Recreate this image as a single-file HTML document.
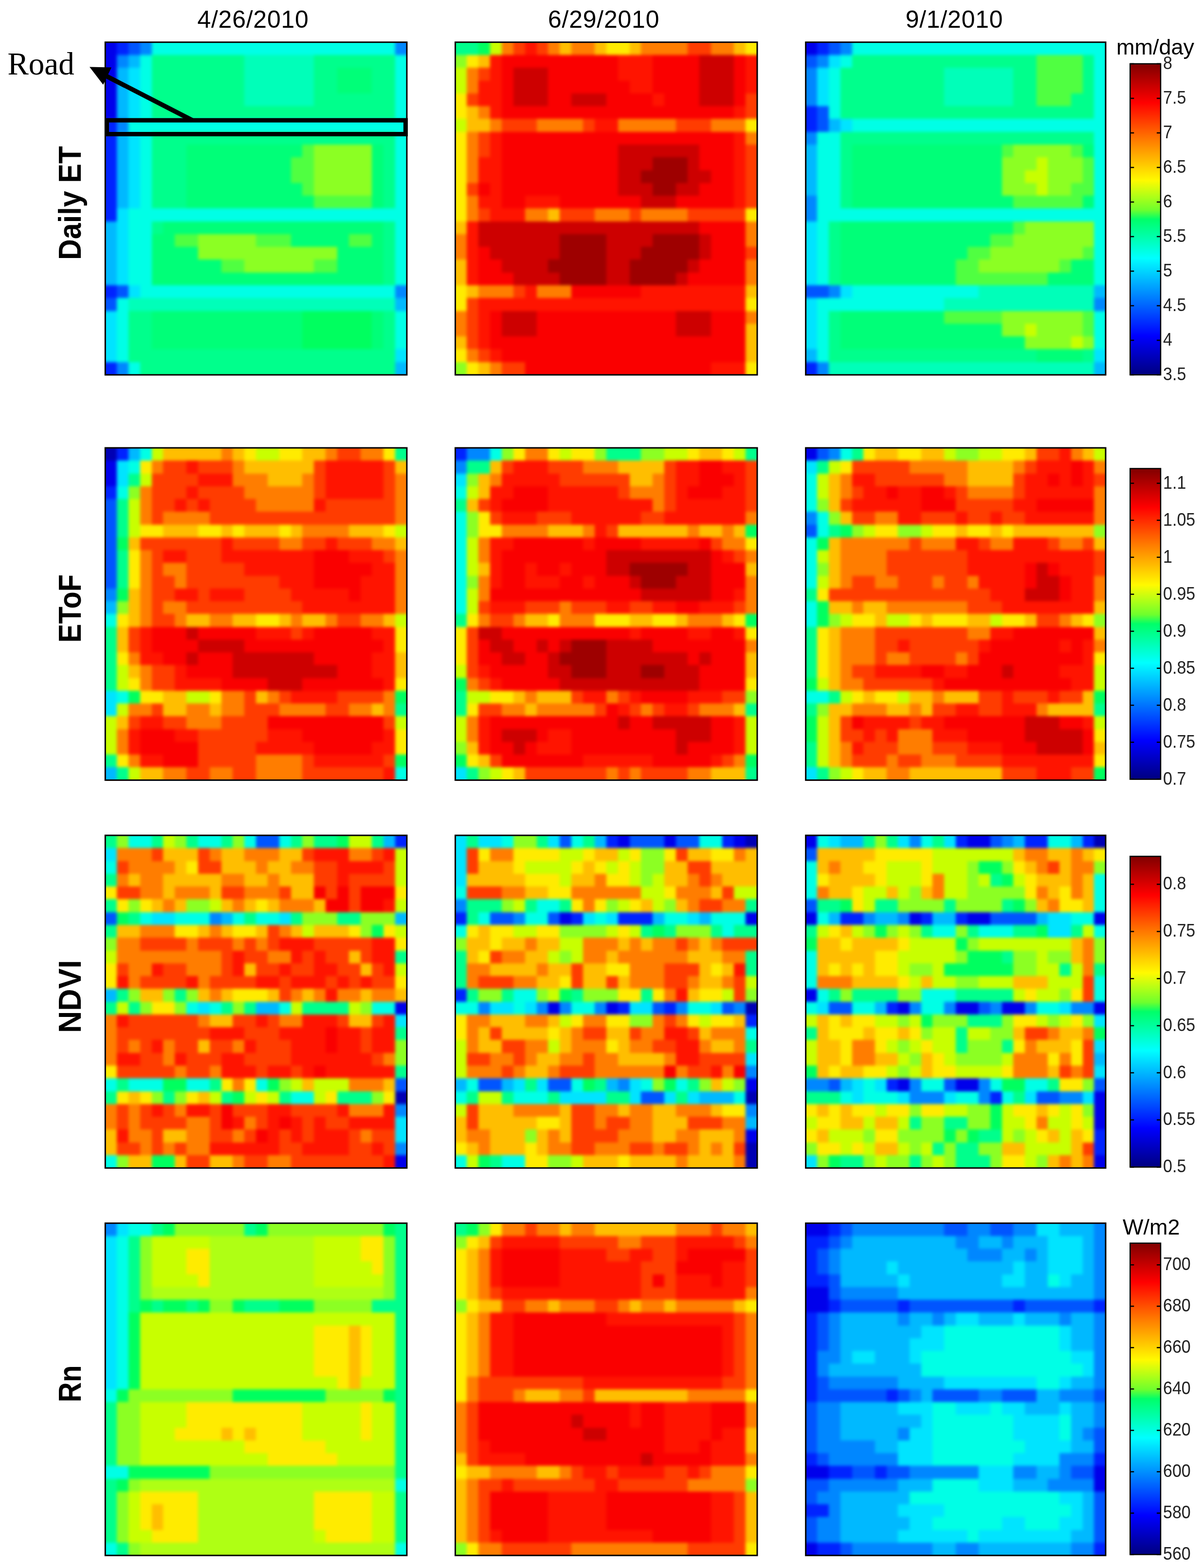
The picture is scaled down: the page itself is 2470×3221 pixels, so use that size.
<!DOCTYPE html>
<html><head><meta charset="utf-8"><style>
html,body{margin:0;padding:0;background:#fff;}
body{width:2470px;height:3221px;overflow:hidden;}
svg{display:block;}
.tk{font-family:"Liberation Sans",Arial,sans-serif;font-size:37px;fill:#222;}
.dt{font-family:"Liberation Sans",Arial,sans-serif;font-size:50px;fill:#000;letter-spacing:0.75px;}
.rl{font-family:"Liberation Sans",Arial,sans-serif;font-size:65.5px;font-weight:bold;fill:#000;}
.un{font-family:"Liberation Sans",Arial,sans-serif;font-size:45px;fill:#000;}
.rd{font-family:"Liberation Serif","Times New Roman",serif;font-size:65px;fill:#000;}
</style></head><body>
<svg width="2470" height="3221" viewBox="0 0 2470 3221">
<defs><linearGradient id="jetg" x1="0" y1="1" x2="0" y2="0">
<stop offset="0.0000" stop-color="#000080"/>
<stop offset="0.1250" stop-color="#0000ff"/>
<stop offset="0.2500" stop-color="#0080ff"/>
<stop offset="0.3750" stop-color="#00ffff"/>
<stop offset="0.4400" stop-color="#00ffaf"/>
<stop offset="0.5000" stop-color="#00ff69"/>
<stop offset="0.5300" stop-color="#6eff2d"/>
<stop offset="0.5700" stop-color="#aaff19"/>
<stop offset="0.6250" stop-color="#fffa00"/>
<stop offset="0.7500" stop-color="#ff8000"/>
<stop offset="0.8750" stop-color="#ff0000"/>
<stop offset="1.0000" stop-color="#800000"/>
</linearGradient><filter id="bl" x="-5%" y="-5%" width="110%" height="110%" color-interpolation-filters="sRGB"><feGaussianBlur stdDeviation="3.2"/></filter></defs>
<rect width="2470" height="3221" fill="#fff"/>
<g shape-rendering="crispEdges">
<clipPath id="cp1"><rect x="216.30" y="86.70" width="619.70" height="683.30"/></clipPath>
<g clip-path="url(#cp1)"><g filter="url(#bl)"><g transform="translate(216.30 86.70) scale(23.8346 26.2808)">
<rect x="-1" y="-1" width="28" height="28" fill="#00ff8c"/>
<path fill="#0000eb" d="M-1 -1h2v1h-2zM-1 0h2v1h-2zM-1 1h2v1h-2zM-1 2h2v1h-2zM-1 3h2v1h-2zM-1 4h2v1h-2zM-1 5h2v1h-2z"/>
<path fill="#0023ff" d="M1 -1h1v1h-1zM1 0h1v1h-1zM-1 6h2v1h-2zM-1 7h2v1h-2zM-1 8h2v1h-2zM-1 9h2v1h-2zM-1 10h2v1h-2zM-1 11h2v1h-2zM-1 12h2v1h-2zM-1 13h2v1h-2zM-1 19h2v1h-2zM-1 25h2v1h-2zM-1 26h2v1h-2z"/>
<path fill="#0055ff" d="M2 -1h1v1h-1zM2 0h1v1h-1zM1 19h1v1h-1zM-1 20h2v1h-2z"/>
<path fill="#0087ff" d="M3 -1h1v1h-1zM25 -1h2v1h-2zM3 0h1v1h-1zM25 0h2v1h-2zM1 1h1v1h-1zM1 6h1v1h-1zM25 19h2v1h-2zM1 25h1v1h-1zM1 26h1v1h-1z"/>
<path fill="#00ffe6" d="M4 -1h21v1h-21zM4 0h21v1h-21zM3 1h1v1h-1zM25 1h2v1h-2zM3 2h1v1h-1zM25 2h2v1h-2zM3 3h1v1h-1zM25 3h2v1h-2zM3 4h1v1h-1zM25 4h2v1h-2zM3 5h1v1h-1zM25 5h2v1h-2zM2 6h25v1h-25zM3 7h1v1h-1zM25 7h2v1h-2zM3 8h1v1h-1zM25 8h2v1h-2zM3 9h1v1h-1zM25 9h2v1h-2zM3 10h1v1h-1zM25 10h2v1h-2zM3 11h1v1h-1zM25 11h2v1h-2zM3 12h1v1h-1zM25 12h2v1h-2zM2 13h25v1h-25zM2 14h2v1h-2zM25 14h2v1h-2zM2 15h2v1h-2zM25 15h2v1h-2zM2 16h2v1h-2zM25 16h2v1h-2zM2 17h2v1h-2zM25 17h2v1h-2zM2 18h2v1h-2zM25 18h2v1h-2zM3 19h22v1h-22zM1 20h1v1h-1zM1 21h1v1h-1zM25 21h2v1h-2zM1 22h1v1h-1zM25 22h2v1h-2zM1 23h1v1h-1zM25 23h2v1h-2zM1 24h1v1h-1zM2 25h1v1h-1zM2 26h1v1h-1z"/>
<path fill="#00b9ff" d="M2 1h1v1h-1zM1 2h1v1h-1zM1 3h1v1h-1zM1 4h1v1h-1zM1 5h1v1h-1zM1 7h1v1h-1zM1 8h1v1h-1zM1 9h1v1h-1zM1 10h1v1h-1zM1 11h1v1h-1zM1 12h1v1h-1zM-1 14h2v1h-2zM-1 15h2v1h-2zM-1 16h2v1h-2zM-1 17h2v1h-2zM-1 18h2v1h-2zM25 20h2v1h-2zM25 25h2v1h-2zM25 26h2v1h-2z"/>
<path fill="#00ffb9" d="M12 1h6v1h-6zM12 2h6v1h-6zM12 3h6v1h-6zM12 4h6v1h-6zM2 20h23v1h-23z"/>
<path fill="#00e4ff" d="M2 2h1v1h-1zM2 3h1v1h-1zM2 4h1v1h-1zM2 5h1v1h-1zM2 7h1v1h-1zM2 8h1v1h-1zM2 9h1v1h-1zM2 10h1v1h-1zM2 11h1v1h-1zM2 12h1v1h-1zM1 13h1v1h-1zM1 14h1v1h-1zM1 15h1v1h-1zM1 16h1v1h-1zM1 17h1v1h-1zM1 18h1v1h-1zM2 19h1v1h-1zM-1 21h2v1h-2zM-1 22h2v1h-2zM-1 23h2v1h-2zM-1 24h2v1h-2zM25 24h2v1h-2z"/>
<path fill="#00ff78" d="M20 2h3v1h-3zM20 3h3v1h-3zM7 8h10v1h-10zM23 8h1v1h-1zM7 9h9v1h-9zM23 9h1v1h-1zM7 10h9v1h-9zM23 10h1v1h-1zM7 11h10v1h-10zM23 11h1v1h-1zM7 12h11v1h-11zM23 12h1v1h-1zM5 14h19v1h-19zM4 15h2v1h-2zM16 15h5v1h-5zM23 15h1v1h-1zM4 16h4v1h-4zM20 16h4v1h-4zM4 17h6v1h-6zM20 17h4v1h-4zM4 18h20v1h-20zM4 21h13v1h-13zM23 21h1v1h-1zM4 22h13v1h-13zM23 22h1v1h-1zM4 23h13v1h-13zM23 23h1v1h-1z"/>
<path fill="#50ff41" d="M17 8h1v1h-1zM16 9h2v1h-2zM16 10h2v1h-2zM17 11h1v1h-1zM18 12h5v1h-5zM6 15h2v1h-2zM13 15h3v1h-3zM21 15h2v1h-2zM10 17h2v1h-2zM18 17h2v1h-2z"/>
<path fill="#8cff23" d="M18 8h5v1h-5zM18 9h5v1h-5zM18 10h5v1h-5zM18 11h5v1h-5zM8 15h5v1h-5zM8 16h12v1h-12zM12 17h6v1h-6z"/>
<path fill="#00ff5f" d="M17 21h6v1h-6zM17 22h6v1h-6zM17 23h6v1h-6z"/>
</g></g></g>
<clipPath id="cp2"><rect x="935.60" y="86.70" width="620.40" height="683.30"/></clipPath>
<g clip-path="url(#cp2)"><g filter="url(#bl)"><g transform="translate(935.60 86.70) scale(23.8615 26.2808)">
<rect x="-1" y="-1" width="28" height="28" fill="#fa0000"/>
<path fill="#00ff8c" d="M-1 -1h3v1h-3zM-1 0h3v1h-3z"/>
<path fill="#00ff5f" d="M2 -1h1v1h-1zM2 0h1v1h-1z"/>
<path fill="#c8ff00" d="M3 -1h1v1h-1zM3 0h1v1h-1zM-1 2h2v1h-2zM-1 3h2v1h-2zM-1 6h2v1h-2z"/>
<path fill="#ff7d00" d="M4 -1h1v1h-1zM8 -1h1v1h-1zM10 -1h2v1h-2zM16 -1h4v1h-4zM22 -1h2v1h-2zM4 0h1v1h-1zM8 0h1v1h-1zM10 0h2v1h-2zM16 0h4v1h-4zM22 0h2v1h-2zM1 2h1v1h-1zM1 3h1v1h-1zM2 5h1v1h-1zM3 6h1v1h-1zM7 6h4v1h-4zM14 6h5v1h-5zM22 6h3v1h-3zM1 7h1v1h-1zM25 7h2v1h-2zM1 8h1v1h-1zM1 9h1v1h-1zM1 10h1v1h-1zM1 12h1v1h-1zM1 13h1v1h-1zM6 13h2v1h-2zM12 13h3v1h-3zM16 13h4v1h-4zM25 14h2v1h-2zM-1 15h2v1h-2zM25 15h2v1h-2zM-1 16h2v1h-2zM25 17h2v1h-2zM25 18h2v1h-2zM2 19h3v1h-3zM7 19h3v1h-3zM-1 21h2v1h-2zM25 21h2v1h-2zM-1 22h2v1h-2zM1 24h1v1h-1zM3 25h1v1h-1zM3 26h1v1h-1z"/>
<path fill="#ff3c00" d="M5 -1h1v1h-1zM7 -1h1v1h-1zM20 -1h2v1h-2zM5 0h1v1h-1zM7 0h1v1h-1zM20 0h2v1h-2zM2 2h1v1h-1zM1 4h1v1h-1zM25 4h2v1h-2zM25 5h2v1h-2zM4 6h3v1h-3zM11 6h1v1h-1zM19 6h3v1h-3zM2 7h1v1h-1zM2 8h1v1h-1zM25 8h2v1h-2zM25 9h2v1h-2zM25 10h2v1h-2zM1 11h1v1h-1zM25 11h2v1h-2zM25 12h2v1h-2zM2 13h1v1h-1zM9 13h3v1h-3zM15 13h1v1h-1zM20 13h5v1h-5zM25 16h2v1h-2zM5 19h1v1h-1zM1 20h1v1h-1zM1 21h1v1h-1zM1 22h1v1h-1zM1 23h1v1h-1zM2 24h1v1h-1zM4 25h2v1h-2zM4 26h2v1h-2z"/>
<path fill="#ff1400" d="M6 -1h1v1h-1zM6 0h1v1h-1zM3 1h1v1h-1zM14 1h3v1h-3zM25 1h2v1h-2zM3 2h1v1h-1zM14 2h3v1h-3zM25 2h2v1h-2zM2 3h2v1h-2zM15 3h2v1h-2zM25 3h2v1h-2zM2 4h2v1h-2zM17 4h1v1h-1zM3 5h1v1h-1zM24 5h1v1h-1zM12 6h2v1h-2zM3 7h1v1h-1zM24 7h1v1h-1zM3 8h1v1h-1zM24 8h1v1h-1zM2 9h2v1h-2zM24 9h1v1h-1zM2 10h2v1h-2zM24 10h1v1h-1zM3 11h1v1h-1zM24 11h1v1h-1zM2 12h2v1h-2zM6 12h3v1h-3zM24 12h1v1h-1zM3 13h3v1h-3zM1 14h1v1h-1zM1 15h1v1h-1zM1 16h1v1h-1zM1 17h1v1h-1zM1 18h1v1h-1zM6 19h1v1h-1zM16 19h9v1h-9zM2 20h23v1h-23zM2 21h1v1h-1zM2 22h1v1h-1zM2 23h1v1h-1zM3 24h1v1h-1zM22 25h3v1h-3zM22 26h3v1h-3z"/>
<path fill="#ffbe00" d="M9 -1h1v1h-1zM12 -1h1v1h-1zM15 -1h1v1h-1zM24 -1h1v1h-1zM9 0h1v1h-1zM12 0h1v1h-1zM15 0h1v1h-1zM24 0h1v1h-1zM2 1h1v1h-1zM1 5h1v1h-1zM1 6h2v1h-2zM8 13h1v1h-1zM-1 14h2v1h-2zM-1 17h2v1h-2zM-1 18h2v1h-2zM1 19h1v1h-1zM25 19h2v1h-2zM25 22h2v1h-2zM-1 23h2v1h-2zM25 23h2v1h-2zM25 24h2v1h-2zM2 25h1v1h-1zM2 26h1v1h-1z"/>
<path fill="#ffeb00" d="M13 -1h2v1h-2zM25 -1h2v1h-2zM13 0h2v1h-2zM25 0h2v1h-2zM1 1h1v1h-1zM-1 4h2v1h-2zM-1 5h2v1h-2zM25 6h2v1h-2zM-1 7h2v1h-2zM-1 8h2v1h-2zM-1 9h2v1h-2zM-1 10h2v1h-2zM-1 11h2v1h-2zM-1 12h2v1h-2zM-1 13h2v1h-2zM25 13h2v1h-2zM-1 19h2v1h-2zM-1 20h2v1h-2zM25 20h2v1h-2zM-1 24h2v1h-2zM1 25h1v1h-1zM25 25h2v1h-2zM1 26h1v1h-1zM25 26h2v1h-2z"/>
<path fill="#8cff23" d="M-1 1h2v1h-2zM-1 25h2v1h-2zM-1 26h2v1h-2z"/>
<path fill="#cd0000" d="M21 1h3v1h-3zM5 2h3v1h-3zM21 2h3v1h-3zM5 3h3v1h-3zM21 3h3v1h-3zM5 4h3v1h-3zM10 4h3v1h-3zM21 4h3v1h-3zM14 8h7v1h-7zM14 9h3v1h-3zM20 9h1v1h-1zM14 10h2v1h-2zM20 10h2v1h-2zM14 11h3v1h-3zM19 11h2v1h-2zM16 12h3v1h-3zM2 14h19v1h-19zM2 15h7v1h-7zM13 15h4v1h-4zM21 15h1v1h-1zM3 16h6v1h-6zM13 16h3v1h-3zM21 16h1v1h-1zM4 17h4v1h-4zM13 17h2v1h-2zM20 17h1v1h-1zM5 18h4v1h-4zM13 18h2v1h-2zM19 18h1v1h-1zM4 21h3v1h-3zM19 21h3v1h-3zM4 22h3v1h-3zM19 22h3v1h-3z"/>
<path fill="#9e0000" d="M17 9h3v1h-3zM16 10h4v1h-4zM17 11h2v1h-2zM9 15h4v1h-4zM17 15h4v1h-4zM9 16h4v1h-4zM16 16h5v1h-5zM8 17h5v1h-5zM15 17h5v1h-5zM9 18h4v1h-4zM15 18h4v1h-4z"/>
</g></g></g>
<clipPath id="cp3"><rect x="1655.70" y="86.70" width="616.30" height="683.30"/></clipPath>
<g clip-path="url(#cp3)"><g filter="url(#bl)"><g transform="translate(1655.70 86.70) scale(23.7038 26.2808)">
<rect x="-1" y="-1" width="28" height="28" fill="#00ffe6"/>
<path fill="#0000eb" d="M-1 -1h2v1h-2zM-1 0h2v1h-2z"/>
<path fill="#0023ff" d="M1 -1h1v1h-1zM1 0h1v1h-1zM-1 5h2v1h-2zM-1 6h2v1h-2zM-1 25h2v1h-2zM-1 26h2v1h-2z"/>
<path fill="#0055ff" d="M2 -1h1v1h-1zM2 0h1v1h-1zM-1 1h2v1h-2zM1 5h1v1h-1zM1 6h1v1h-1zM-1 19h3v1h-3z"/>
<path fill="#0087ff" d="M3 -1h1v1h-1zM3 0h1v1h-1zM1 1h1v1h-1zM-1 2h2v1h-2zM-1 3h2v1h-2zM-1 4h2v1h-2zM-1 7h2v1h-2zM-1 12h2v1h-2zM-1 13h2v1h-2zM2 19h1v1h-1zM25 20h2v1h-2zM1 25h1v1h-1zM1 26h1v1h-1z"/>
<path fill="#00e4ff" d="M2 1h1v1h-1zM1 2h1v1h-1zM1 3h1v1h-1zM1 4h1v1h-1zM3 6h1v1h-1zM-1 14h2v1h-2zM-1 15h2v1h-2zM-1 16h2v1h-2zM-1 17h2v1h-2zM-1 18h2v1h-2zM3 19h1v1h-1zM-1 20h2v1h-2zM-1 21h2v1h-2zM-1 22h2v1h-2zM-1 23h2v1h-2zM25 24h2v1h-2z"/>
<path fill="#00ff8c" d="M4 1h16v1h-16zM24 1h1v1h-1zM3 2h9v1h-9zM18 2h2v1h-2zM24 2h1v1h-1zM3 3h9v1h-9zM18 3h2v1h-2zM24 3h1v1h-1zM3 4h9v1h-9zM18 4h2v1h-2zM23 4h2v1h-2zM3 5h22v1h-22zM3 7h22v1h-22zM3 8h1v1h-1zM3 9h1v1h-1zM3 10h1v1h-1zM3 11h1v1h-1zM3 12h1v1h-1zM2 14h1v1h-1zM2 15h1v1h-1zM2 16h1v1h-1zM2 17h1v1h-1zM2 18h1v1h-1zM2 21h1v1h-1zM2 22h1v1h-1zM2 23h1v1h-1zM2 24h18v1h-18zM24 24h1v1h-1z"/>
<path fill="#50ff41" d="M20 1h4v1h-4zM20 2h4v1h-4zM20 3h4v1h-4zM20 4h3v1h-3zM17 8h1v1h-1zM23 8h1v1h-1zM24 9h1v1h-1zM24 10h1v1h-1zM23 11h2v1h-2zM18 12h6v1h-6zM18 14h1v1h-1zM16 15h2v1h-2zM14 16h2v1h-2zM24 16h1v1h-1zM13 17h2v1h-2zM22 17h1v1h-1zM13 18h8v1h-8zM12 21h5v1h-5zM24 21h1v1h-1zM24 22h1v1h-1z"/>
<path fill="#00ffb9" d="M12 2h6v1h-6zM12 3h6v1h-6zM12 4h6v1h-6zM15 19h10v1h-10zM12 20h13v1h-13zM2 25h23v1h-23zM2 26h23v1h-23z"/>
<path fill="#00b9ff" d="M2 6h1v1h-1zM-1 8h2v1h-2zM-1 9h2v1h-2zM-1 10h2v1h-2zM-1 11h2v1h-2zM25 19h2v1h-2zM-1 24h2v1h-2zM25 25h2v1h-2zM25 26h2v1h-2z"/>
<path fill="#00ff78" d="M4 8h13v1h-13zM24 8h1v1h-1zM4 9h13v1h-13zM4 10h13v1h-13zM4 11h13v1h-13zM4 12h14v1h-14zM24 12h1v1h-1zM3 14h15v1h-15zM3 15h13v1h-13zM3 16h11v1h-11zM3 17h10v1h-10zM23 17h2v1h-2zM3 18h10v1h-10zM21 18h4v1h-4zM3 21h9v1h-9zM3 22h14v1h-14zM3 23h16v1h-16zM20 24h4v1h-4z"/>
<path fill="#8cff23" d="M18 8h5v1h-5zM17 9h3v1h-3zM21 9h3v1h-3zM17 10h2v1h-2zM21 10h3v1h-3zM17 11h3v1h-3zM21 11h2v1h-2zM19 14h6v1h-6zM18 15h7v1h-7zM16 16h8v1h-8zM15 17h7v1h-7zM17 21h7v1h-7zM17 22h2v1h-2zM20 22h4v1h-4zM19 23h4v1h-4zM24 23h1v1h-1z"/>
<path fill="#c8ff00" d="M20 9h1v1h-1zM19 10h2v1h-2zM20 11h1v1h-1zM19 22h1v1h-1zM23 23h1v1h-1z"/>
</g></g></g>
<clipPath id="cp4"><rect x="216.30" y="920.00" width="619.70" height="682.60"/></clipPath>
<g clip-path="url(#cp4)"><g filter="url(#bl)"><g transform="translate(216.30 920.00) scale(23.8346 26.2538)">
<rect x="-1" y="-1" width="28" height="28" fill="#ff3c00"/>
<path fill="#0000b4" d="M-1 -1h2v1h-2zM-1 0h2v1h-2z"/>
<path fill="#0023ff" d="M1 -1h1v1h-1zM1 0h1v1h-1zM-1 3h2v1h-2z"/>
<path fill="#00b9ff" d="M2 -1h1v1h-1zM2 0h1v1h-1zM-1 12h2v1h-2zM-1 25h2v1h-2zM-1 26h2v1h-2z"/>
<path fill="#00ffe6" d="M3 -1h1v1h-1zM3 0h1v1h-1zM2 1h1v1h-1zM1 3h1v1h-1zM-1 13h2v1h-2zM1 19h1v1h-1zM25 25h2v1h-2zM25 26h2v1h-2z"/>
<path fill="#c8ff00" d="M4 -1h1v1h-1zM13 -1h2v1h-2zM4 0h1v1h-1zM13 0h2v1h-2zM3 2h1v1h-1zM2 4h1v1h-1zM2 5h1v1h-1zM2 6h1v1h-1zM25 6h2v1h-2zM25 13h2v1h-2zM1 17h1v1h-1zM1 18h1v1h-1zM7 19h2v1h-2zM1 20h1v1h-1zM-1 21h2v1h-2zM25 21h2v1h-2zM-1 22h2v1h-2zM-1 23h2v1h-2zM2 25h1v1h-1zM2 26h1v1h-1z"/>
<path fill="#ffbe00" d="M5 -1h5v1h-5zM11 -1h1v1h-1zM17 -1h2v1h-2zM5 0h5v1h-5zM11 0h1v1h-1zM17 0h2v1h-2zM12 1h6v1h-6zM25 1h2v1h-2zM14 2h3v1h-3zM5 6h3v1h-3zM10 6h1v1h-1zM12 6h3v1h-3zM16 6h1v1h-1zM21 6h3v1h-3zM2 7h1v1h-1zM25 7h2v1h-2zM2 11h1v1h-1zM2 12h1v1h-1zM2 13h1v1h-1zM7 13h2v1h-2zM11 13h2v1h-2zM15 13h1v1h-1zM17 13h2v1h-2zM24 13h1v1h-1zM1 14h1v1h-1zM1 15h1v1h-1zM25 16h2v1h-2zM2 17h1v1h-1zM25 17h2v1h-2zM5 19h2v1h-2zM13 19h1v1h-1zM5 20h2v1h-2zM9 20h1v1h-1zM23 20h1v1h-1zM1 21h1v1h-1zM3 25h2v1h-2zM3 26h2v1h-2z"/>
<path fill="#ff7d00" d="M10 -1h1v1h-1zM19 -1h1v1h-1zM22 -1h2v1h-2zM10 0h1v1h-1zM19 0h1v1h-1zM22 0h2v1h-2zM4 1h1v1h-1zM11 1h1v1h-1zM11 2h3v1h-3zM17 2h1v1h-1zM25 2h2v1h-2zM3 3h1v1h-1zM12 3h6v1h-6zM25 3h2v1h-2zM3 4h1v1h-1zM13 4h5v1h-5zM25 4h2v1h-2zM3 5h1v1h-1zM5 5h4v1h-4zM25 5h2v1h-2zM17 6h4v1h-4zM15 7h2v1h-2zM23 7h2v1h-2zM3 8h1v1h-1zM25 8h2v1h-2zM3 9h1v1h-1zM5 9h2v1h-2zM25 9h2v1h-2zM3 10h1v1h-1zM6 10h1v1h-1zM25 10h2v1h-2zM3 11h1v1h-1zM25 11h2v1h-2zM3 12h1v1h-1zM5 12h2v1h-2zM25 12h2v1h-2zM3 13h1v1h-1zM6 13h1v1h-1zM9 13h2v1h-2zM16 13h1v1h-1zM19 13h1v1h-1zM22 13h2v1h-2zM2 16h1v1h-1zM3 17h1v1h-1zM3 18h1v1h-1zM10 19h2v1h-2zM14 19h1v1h-1zM24 19h1v1h-1zM2 20h2v1h-2zM7 20h2v1h-2zM10 20h2v1h-2zM15 20h4v1h-4zM21 20h2v1h-2zM24 20h1v1h-1zM7 21h3v1h-3zM1 22h1v1h-1zM1 23h1v1h-1zM2 24h1v1h-1zM13 24h4v1h-4zM5 25h2v1h-2zM9 25h2v1h-2zM13 25h4v1h-4zM5 26h2v1h-2zM9 26h2v1h-2zM13 26h4v1h-4z"/>
<path fill="#ffeb00" d="M12 -1h1v1h-1zM15 -1h2v1h-2zM24 -1h1v1h-1zM12 0h1v1h-1zM15 0h2v1h-2zM24 0h1v1h-1zM3 1h1v1h-1zM3 6h2v1h-2zM8 6h2v1h-2zM11 6h1v1h-1zM15 6h1v1h-1zM24 6h1v1h-1zM2 8h1v1h-1zM2 9h1v1h-1zM2 10h1v1h-1zM1 13h1v1h-1zM13 13h2v1h-2zM25 14h2v1h-2zM25 15h2v1h-2zM1 16h1v1h-1zM2 18h1v1h-1zM25 18h2v1h-2zM3 19h2v1h-2zM9 19h1v1h-1zM25 22h2v1h-2zM25 23h2v1h-2zM1 24h1v1h-1z"/>
<path fill="#00ff8c" d="M25 -1h2v1h-2zM25 0h2v1h-2zM2 2h1v1h-1zM1 4h1v1h-1zM1 5h1v1h-1zM1 6h1v1h-1zM1 8h1v1h-1zM1 9h1v1h-1zM1 10h1v1h-1zM-1 14h2v1h-2zM-1 15h2v1h-2zM-1 16h2v1h-2zM-1 17h2v1h-2zM-1 18h2v1h-2zM25 20h2v1h-2zM-1 24h2v1h-2zM1 25h1v1h-1zM1 26h1v1h-1z"/>
<path fill="#0000eb" d="M-1 1h2v1h-2zM-1 2h2v1h-2z"/>
<path fill="#00e4ff" d="M1 1h1v1h-1zM1 2h1v1h-1zM-1 19h2v1h-2zM-1 20h2v1h-2z"/>
<path fill="#ff1400" d="M7 1h1v1h-1zM19 1h5v1h-5zM8 2h3v1h-3zM19 2h5v1h-5zM7 3h1v1h-1zM19 3h5v1h-5zM6 4h1v1h-1zM8 4h1v1h-1zM18 4h1v1h-1zM10 7h1v1h-1zM19 7h1v1h-1zM5 8h2v1h-2zM10 8h8v1h-8zM21 8h3v1h-3zM12 9h6v1h-6zM23 9h2v1h-2zM15 10h3v1h-3zM22 10h3v1h-3zM6 11h2v1h-2zM9 11h3v1h-3zM16 11h5v1h-5zM22 11h3v1h-3zM17 12h8v1h-8zM3 14h1v1h-1zM13 14h3v1h-3zM17 14h1v1h-1zM23 14h2v1h-2zM3 15h1v1h-1zM24 15h1v1h-1zM3 16h2v1h-2zM23 16h2v1h-2zM6 17h1v1h-1zM23 17h2v1h-2zM6 18h4v1h-4zM24 18h1v1h-1zM16 19h4v1h-4zM3 21h2v1h-2zM2 22h1v1h-1zM6 22h2v1h-2zM14 22h3v1h-3zM24 22h1v1h-1zM2 23h1v1h-1zM13 23h5v1h-5zM23 23h2v1h-2zM3 24h2v1h-2zM18 24h6v1h-6zM24 25h1v1h-1zM24 26h1v1h-1z"/>
<path fill="#8cff23" d="M2 3h1v1h-1zM1 12h1v1h-1z"/>
<path fill="#0055ff" d="M-1 4h2v1h-2zM-1 5h2v1h-2zM-1 6h2v1h-2zM-1 7h2v1h-2zM-1 8h2v1h-2zM-1 9h2v1h-2zM-1 10h2v1h-2z"/>
<path fill="#00ff5f" d="M1 7h1v1h-1zM1 11h1v1h-1zM2 19h1v1h-1zM25 19h2v1h-2zM25 24h2v1h-2z"/>
<path fill="#fa0000" d="M18 8h3v1h-3zM18 9h5v1h-5zM18 10h4v1h-4zM21 11h1v1h-1zM4 14h3v1h-3zM8 14h5v1h-5zM18 14h5v1h-5zM4 15h4v1h-4zM12 15h12v1h-12zM5 16h2v1h-2zM8 16h3v1h-3zM18 16h5v1h-5zM7 17h4v1h-4zM20 17h3v1h-3zM10 18h4v1h-4zM17 18h7v1h-7zM14 21h10v1h-10zM3 22h3v1h-3zM17 22h7v1h-7zM3 23h5v1h-5zM18 23h5v1h-5zM5 24h3v1h-3z"/>
<path fill="#0087ff" d="M-1 11h2v1h-2z"/>
<path fill="#cd0000" d="M7 14h1v1h-1zM8 15h4v1h-4zM7 16h1v1h-1zM11 16h7v1h-7zM11 17h9v1h-9zM14 18h3v1h-3z"/>
</g></g></g>
<clipPath id="cp5"><rect x="935.60" y="920.00" width="620.40" height="682.60"/></clipPath>
<g clip-path="url(#cp5)"><g filter="url(#bl)"><g transform="translate(935.60 920.00) scale(23.8615 26.2538)">
<rect x="-1" y="-1" width="28" height="28" fill="#fa0000"/>
<path fill="#0023ff" d="M-1 -1h2v1h-2zM-1 0h2v1h-2z"/>
<path fill="#0087ff" d="M1 -1h2v1h-2zM1 0h2v1h-2zM-1 1h2v1h-2z"/>
<path fill="#00ffe6" d="M3 -1h1v1h-1zM3 0h1v1h-1zM-1 3h2v1h-2zM-1 5h2v1h-2zM-1 6h2v1h-2zM-1 7h2v1h-2zM-1 8h2v1h-2zM-1 9h2v1h-2zM-1 10h2v1h-2zM-1 11h2v1h-2zM-1 12h2v1h-2z"/>
<path fill="#8cff23" d="M4 -1h1v1h-1zM12 -1h1v1h-1zM16 -1h2v1h-2zM4 0h1v1h-1zM12 0h1v1h-1zM16 0h2v1h-2zM1 2h1v1h-1zM1 5h1v1h-1zM1 6h1v1h-1zM1 10h1v1h-1zM25 19h2v1h-2zM-1 23h2v1h-2zM2 25h1v1h-1zM2 26h1v1h-1z"/>
<path fill="#ffeb00" d="M5 -1h1v1h-1zM8 -1h1v1h-1zM10 -1h2v1h-2zM20 -1h1v1h-1zM23 -1h1v1h-1zM5 0h1v1h-1zM8 0h1v1h-1zM10 0h2v1h-2zM20 0h1v1h-1zM23 0h1v1h-1zM2 5h1v1h-1zM2 6h2v1h-2zM25 7h2v1h-2zM1 13h1v1h-1zM8 13h1v1h-1zM12 13h3v1h-3zM17 13h2v1h-2zM24 13h1v1h-1zM-1 14h2v1h-2zM25 14h2v1h-2zM-1 15h2v1h-2zM-1 16h2v1h-2zM25 18h2v1h-2zM3 19h2v1h-2zM1 20h1v1h-1zM1 24h1v1h-1zM4 25h1v1h-1zM4 26h1v1h-1z"/>
<path fill="#ff7d00" d="M6 -1h2v1h-2zM6 0h2v1h-2zM11 1h3v1h-3zM3 2h1v1h-1zM17 2h1v1h-1zM15 3h3v1h-3zM17 4h1v1h-1zM25 5h2v1h-2zM4 6h4v1h-4zM11 6h1v1h-1zM20 6h1v1h-1zM23 6h1v1h-1zM2 7h1v1h-1zM23 7h2v1h-2zM2 8h1v1h-1zM25 8h2v1h-2zM2 10h1v1h-1zM25 10h2v1h-2zM2 11h1v1h-1zM25 11h2v1h-2zM9 12h1v1h-1zM25 12h2v1h-2zM2 13h1v1h-1zM5 13h1v1h-1zM9 13h3v1h-3zM20 13h3v1h-3zM25 15h2v1h-2zM1 18h1v1h-1zM6 19h1v1h-1zM13 19h1v1h-1zM4 20h2v1h-2zM7 20h5v1h-5zM16 20h1v1h-1zM21 20h3v1h-3zM1 21h1v1h-1zM1 22h1v1h-1zM24 24h1v1h-1zM13 25h1v1h-1zM15 25h1v1h-1zM20 25h2v1h-2zM13 26h1v1h-1zM15 26h1v1h-1zM20 26h2v1h-2z"/>
<path fill="#c8ff00" d="M9 -1h1v1h-1zM18 -1h2v1h-2zM24 -1h1v1h-1zM9 0h1v1h-1zM18 0h2v1h-2zM24 0h1v1h-1zM1 3h1v1h-1zM1 7h1v1h-1zM1 8h1v1h-1zM1 9h1v1h-1zM1 11h1v1h-1zM1 12h1v1h-1zM-1 17h2v1h-2zM1 19h2v1h-2zM-1 21h2v1h-2zM25 21h2v1h-2zM-1 22h2v1h-2zM25 22h2v1h-2zM25 23h2v1h-2zM3 25h1v1h-1zM3 26h1v1h-1z"/>
<path fill="#00ff8c" d="M13 -1h3v1h-3zM25 -1h2v1h-2zM13 0h3v1h-3zM25 0h2v1h-2zM1 1h2v1h-2zM-1 4h2v1h-2zM-1 13h2v1h-2zM-1 19h2v1h-2zM-1 20h2v1h-2zM25 20h2v1h-2zM1 25h1v1h-1zM25 25h2v1h-2zM1 26h1v1h-1zM25 26h2v1h-2z"/>
<path fill="#ffbe00" d="M21 -1h2v1h-2zM21 0h2v1h-2zM3 1h1v1h-1zM14 1h4v1h-4zM2 2h1v1h-1zM15 2h2v1h-2zM2 3h1v1h-1zM1 4h1v1h-1zM8 6h3v1h-3zM14 6h6v1h-6zM21 6h2v1h-2zM24 6h1v1h-1zM2 9h1v1h-1zM25 9h2v1h-2zM6 13h2v1h-2zM15 13h2v1h-2zM19 13h1v1h-1zM23 13h1v1h-1zM25 16h2v1h-2zM25 17h2v1h-2zM5 19h1v1h-1zM7 19h3v1h-3zM6 20h1v1h-1zM24 20h1v1h-1zM1 23h1v1h-1zM2 24h1v1h-1zM5 25h1v1h-1zM22 25h3v1h-3zM5 26h1v1h-1zM22 26h3v1h-3z"/>
<path fill="#ff3c00" d="M4 1h1v1h-1zM8 1h3v1h-3zM18 1h1v1h-1zM25 1h2v1h-2zM9 2h6v1h-6zM18 2h1v1h-1zM25 2h2v1h-2zM14 3h1v1h-1zM18 3h1v1h-1zM25 3h2v1h-2zM2 4h1v1h-1zM18 4h1v1h-1zM25 4h2v1h-2zM3 5h1v1h-1zM7 5h3v1h-3zM16 5h2v1h-2zM13 6h1v1h-1zM22 7h1v1h-1zM24 8h1v1h-1zM2 12h1v1h-1zM6 12h3v1h-3zM10 12h3v1h-3zM15 12h2v1h-2zM24 12h1v1h-1zM3 13h2v1h-2zM1 14h1v1h-1zM1 15h1v1h-1zM1 16h1v1h-1zM1 17h1v1h-1zM2 18h1v1h-1zM10 19h1v1h-1zM14 19h1v1h-1zM23 19h2v1h-2zM2 20h2v1h-2zM12 20h1v1h-1zM15 20h1v1h-1zM17 20h1v1h-1zM20 20h1v1h-1zM3 24h1v1h-1zM23 24h1v1h-1zM6 25h7v1h-7zM14 25h1v1h-1zM16 25h4v1h-4zM6 26h7v1h-7zM14 26h1v1h-1zM16 26h4v1h-4z"/>
<path fill="#ff1400" d="M5 1h3v1h-3zM19 1h2v1h-2zM23 1h2v1h-2zM4 2h5v1h-5zM19 2h2v1h-2zM24 2h1v1h-1zM3 3h2v1h-2zM8 3h6v1h-6zM19 3h1v1h-1zM23 3h2v1h-2zM3 4h1v1h-1zM8 4h9v1h-9zM19 4h6v1h-6zM4 5h3v1h-3zM10 5h6v1h-6zM18 5h7v1h-7zM12 6h1v1h-1zM3 7h2v1h-2zM11 7h1v1h-1zM16 7h5v1h-5zM3 8h1v1h-1zM23 8h1v1h-1zM3 9h1v1h-1zM6 9h1v1h-1zM9 9h1v1h-1zM3 10h1v1h-1zM6 10h3v1h-3zM11 10h1v1h-1zM24 11h1v1h-1zM3 12h3v1h-3zM13 12h2v1h-2zM17 12h2v1h-2zM21 12h3v1h-3zM15 14h1v1h-1zM20 14h2v1h-2zM24 14h1v1h-1zM2 17h1v1h-1zM3 18h1v1h-1zM11 19h2v1h-2zM15 19h1v1h-1zM20 19h3v1h-3zM14 20h1v1h-1zM18 20h2v1h-2zM2 21h1v1h-1zM24 21h1v1h-1zM2 22h1v1h-1zM8 22h2v1h-2zM24 22h1v1h-1zM2 23h1v1h-1zM7 23h3v1h-3zM24 23h1v1h-1zM11 24h6v1h-6zM22 24h1v1h-1z"/>
<path fill="#00e4ff" d="M-1 2h2v1h-2zM-1 25h2v1h-2zM-1 26h2v1h-2z"/>
<path fill="#00ff5f" d="M25 6h2v1h-2zM25 13h2v1h-2zM-1 18h2v1h-2zM-1 24h2v1h-2zM25 24h2v1h-2z"/>
<path fill="#cd0000" d="M13 8h9v1h-9zM13 9h2v1h-2zM20 9h2v1h-2zM15 10h1v1h-1zM19 10h3v1h-3zM16 11h6v1h-6zM2 14h2v1h-2zM3 15h2v1h-2zM7 15h1v1h-1zM9 15h1v1h-1zM13 15h4v1h-4zM4 16h2v1h-2zM8 16h1v1h-1zM13 16h7v1h-7zM21 16h1v1h-1zM8 17h2v1h-2zM13 17h3v1h-3zM18 17h3v1h-3zM9 18h12v1h-12zM14 21h1v1h-1zM17 21h5v1h-5zM4 22h3v1h-3zM19 22h3v1h-3zM5 23h1v1h-1zM19 23h1v1h-1z"/>
<path fill="#9e0000" d="M15 9h5v1h-5zM16 10h3v1h-3zM10 15h3v1h-3zM9 16h4v1h-4zM10 17h3v1h-3zM16 17h2v1h-2z"/>
</g></g></g>
<clipPath id="cp6"><rect x="1655.70" y="920.00" width="616.30" height="682.60"/></clipPath>
<g clip-path="url(#cp6)"><g filter="url(#bl)"><g transform="translate(1655.70 920.00) scale(23.7038 26.2538)">
<rect x="-1" y="-1" width="28" height="28" fill="#ff3c00"/>
<path fill="#0000eb" d="M-1 -1h2v1h-2zM-1 0h2v1h-2z"/>
<path fill="#0055ff" d="M1 -1h1v1h-1zM1 0h1v1h-1zM-1 6h2v1h-2z"/>
<path fill="#0087ff" d="M2 -1h1v1h-1zM2 0h1v1h-1zM-1 5h2v1h-2z"/>
<path fill="#00ffe6" d="M3 -1h1v1h-1zM3 0h1v1h-1zM-1 2h2v1h-2zM-1 3h2v1h-2zM-1 4h2v1h-2zM1 5h1v1h-1zM1 6h1v1h-1zM-1 7h2v1h-2zM-1 8h2v1h-2zM-1 9h2v1h-2zM-1 10h2v1h-2zM-1 12h2v1h-2zM-1 13h2v1h-2zM-1 19h3v1h-3z"/>
<path fill="#00ff8c" d="M4 -1h1v1h-1zM4 0h1v1h-1zM1 1h1v1h-1zM2 6h1v1h-1zM-1 11h2v1h-2zM-1 14h2v1h-2zM-1 15h2v1h-2zM-1 16h2v1h-2zM-1 17h2v1h-2zM2 19h1v1h-1zM-1 20h2v1h-2zM25 20h2v1h-2zM-1 23h2v1h-2zM-1 24h2v1h-2zM1 25h1v1h-1zM1 26h1v1h-1z"/>
<path fill="#ffeb00" d="M5 -1h1v1h-1zM8 -1h2v1h-2zM17 -1h2v1h-2zM5 0h1v1h-1zM8 0h2v1h-2zM17 0h2v1h-2zM3 1h1v1h-1zM6 6h2v1h-2zM11 6h2v1h-2zM14 6h2v1h-2zM17 6h1v1h-1zM1 11h1v1h-1zM4 13h2v1h-2zM9 13h1v1h-1zM11 13h3v1h-3zM17 13h2v1h-2zM24 13h1v1h-1zM1 14h1v1h-1zM1 15h1v1h-1zM1 16h1v1h-1zM25 16h2v1h-2zM1 17h1v1h-1zM4 19h1v1h-1zM6 19h2v1h-2zM25 22h2v1h-2zM25 24h2v1h-2zM4 25h1v1h-1zM4 26h1v1h-1z"/>
<path fill="#ffbe00" d="M6 -1h2v1h-2zM10 -1h2v1h-2zM19 -1h1v1h-1zM24 -1h1v1h-1zM6 0h2v1h-2zM10 0h2v1h-2zM19 0h1v1h-1zM24 0h1v1h-1zM14 1h4v1h-4zM2 2h1v1h-1zM14 2h4v1h-4zM2 3h1v1h-1zM2 4h1v1h-1zM3 5h1v1h-1zM13 6h1v1h-1zM16 6h1v1h-1zM18 6h7v1h-7zM2 7h1v1h-1zM25 7h2v1h-2zM2 8h1v1h-1zM2 9h1v1h-1zM2 10h1v1h-1zM2 12h2v1h-2zM5 12h2v1h-2zM25 12h2v1h-2zM6 13h1v1h-1zM10 13h1v1h-1zM14 13h2v1h-2zM19 13h1v1h-1zM23 13h1v1h-1zM2 14h1v1h-1zM25 14h2v1h-2zM2 15h1v1h-1zM2 16h1v1h-1zM2 17h1v1h-1zM2 18h1v1h-1zM5 19h1v1h-1zM9 19h2v1h-2zM12 19h3v1h-3zM24 19h1v1h-1zM2 20h2v1h-2zM7 20h2v1h-2zM10 20h1v1h-1zM21 20h4v1h-4zM2 21h1v1h-1zM2 22h1v1h-1zM2 23h1v1h-1zM25 23h2v1h-2zM2 24h1v1h-1zM5 25h2v1h-2zM9 25h8v1h-8zM5 26h2v1h-2zM9 26h8v1h-8z"/>
<path fill="#c8ff00" d="M12 -1h1v1h-1zM15 -1h2v1h-2zM25 -1h2v1h-2zM12 0h1v1h-1zM15 0h2v1h-2zM25 0h2v1h-2zM2 1h1v1h-1zM1 2h1v1h-1zM1 3h1v1h-1zM5 6h1v1h-1zM10 6h1v1h-1zM1 8h1v1h-1zM1 10h1v1h-1zM3 13h1v1h-1zM7 13h2v1h-2zM16 13h1v1h-1zM25 17h2v1h-2zM1 18h1v1h-1zM25 18h2v1h-2zM3 19h1v1h-1zM8 19h1v1h-1zM1 21h1v1h-1zM25 21h2v1h-2zM1 22h1v1h-1zM1 23h1v1h-1zM1 24h1v1h-1zM3 25h1v1h-1zM3 26h1v1h-1z"/>
<path fill="#8cff23" d="M13 -1h2v1h-2zM13 0h2v1h-2zM1 4h1v1h-1zM2 5h1v1h-1zM4 6h1v1h-1zM8 6h2v1h-2zM25 6h2v1h-2zM1 9h1v1h-1zM2 13h1v1h-1zM25 13h2v1h-2zM1 20h1v1h-1zM2 25h1v1h-1zM2 26h1v1h-1z"/>
<path fill="#ff1400" d="M22 -1h1v1h-1zM22 0h1v1h-1zM20 1h3v1h-3zM24 1h1v1h-1zM4 2h2v1h-2zM19 2h2v1h-2zM22 2h1v1h-1zM24 2h1v1h-1zM5 3h2v1h-2zM8 3h2v1h-2zM12 3h1v1h-1zM19 3h6v1h-6zM4 4h6v1h-6zM18 4h2v1h-2zM8 5h2v1h-2zM13 5h1v1h-1zM16 5h1v1h-1zM19 5h6v1h-6zM13 7h2v1h-2zM18 7h3v1h-3zM14 8h11v1h-11zM14 9h5v1h-5zM22 9h3v1h-3zM15 10h4v1h-4zM23 10h2v1h-2zM16 11h3v1h-3zM23 11h2v1h-2zM17 12h8v1h-8zM16 14h2v1h-2zM8 15h1v1h-1zM15 15h1v1h-1zM22 15h1v1h-1zM24 15h1v1h-1zM24 16h1v1h-1zM6 17h4v1h-4zM12 17h2v1h-2zM22 17h3v1h-3zM11 18h1v1h-1zM23 18h2v1h-2zM17 19h1v1h-1zM21 19h1v1h-1zM13 20h2v1h-2zM17 20h3v1h-3zM5 21h4v1h-4zM10 21h2v1h-2zM24 21h1v1h-1zM5 22h1v1h-1zM7 22h1v1h-1zM11 22h3v1h-3zM4 23h1v1h-1zM14 23h3v1h-3zM17 24h8v1h-8zM20 25h3v1h-3zM20 26h3v1h-3z"/>
<path fill="#ff7d00" d="M23 -1h1v1h-1zM23 0h1v1h-1zM9 1h5v1h-5zM18 1h1v1h-1zM25 1h2v1h-2zM3 2h1v1h-1zM12 2h2v1h-2zM3 3h1v1h-1zM14 3h4v1h-4zM25 3h2v1h-2zM25 4h2v1h-2zM6 5h2v1h-2zM25 5h2v1h-2zM3 7h6v1h-6zM10 7h3v1h-3zM16 7h2v1h-2zM22 7h2v1h-2zM3 8h4v1h-4zM3 9h4v1h-4zM3 10h1v1h-1zM6 10h2v1h-2zM11 10h1v1h-1zM14 10h1v1h-1zM25 10h2v1h-2zM25 11h2v1h-2zM4 12h1v1h-1zM7 12h7v1h-7zM22 13h1v1h-1zM3 14h3v1h-3zM14 14h2v1h-2zM3 15h3v1h-3zM25 15h2v1h-2zM3 16h3v1h-3zM7 16h2v1h-2zM13 16h1v1h-1zM3 17h1v1h-1zM3 18h2v1h-2zM11 19h1v1h-1zM4 20h3v1h-3zM9 20h1v1h-1zM20 20h1v1h-1zM8 22h3v1h-3zM3 23h1v1h-1zM8 23h3v1h-3zM3 24h1v1h-1zM7 24h1v1h-1zM10 24h3v1h-3zM7 25h2v1h-2zM7 26h2v1h-2z"/>
<path fill="#00e4ff" d="M-1 1h2v1h-2zM-1 25h2v1h-2zM-1 26h2v1h-2z"/>
<path fill="#fa0000" d="M23 1h1v1h-1zM21 2h1v1h-1zM23 2h1v1h-1zM7 3h1v1h-1zM10 3h2v1h-2zM10 4h3v1h-3zM20 4h5v1h-5zM19 9h1v1h-1zM21 9h1v1h-1zM19 10h1v1h-1zM22 10h1v1h-1zM22 11h1v1h-1zM18 14h7v1h-7zM16 15h6v1h-6zM23 15h1v1h-1zM15 16h9v1h-9zM10 17h2v1h-2zM14 17h3v1h-3zM18 17h4v1h-4zM12 18h11v1h-11zM4 21h1v1h-1zM12 21h7v1h-7zM22 21h2v1h-2zM14 22h5v1h-5zM24 22h1v1h-1zM17 23h3v1h-3zM24 23h1v1h-1z"/>
<path fill="#00ff5f" d="M3 6h1v1h-1zM1 7h1v1h-1zM1 12h1v1h-1zM1 13h1v1h-1zM-1 18h2v1h-2zM25 19h2v1h-2zM-1 21h2v1h-2zM-1 22h2v1h-2zM25 25h2v1h-2zM25 26h2v1h-2z"/>
<path fill="#cd0000" d="M20 9h1v1h-1zM20 10h2v1h-2zM19 11h3v1h-3zM17 17h1v1h-1zM19 21h3v1h-3zM19 22h5v1h-5zM20 23h4v1h-4z"/>
</g></g></g>
<clipPath id="cp7"><rect x="216.30" y="1716.00" width="619.70" height="683.30"/></clipPath>
<g clip-path="url(#cp7)"><g filter="url(#bl)"><g transform="translate(216.30 1716.00) scale(23.8346 26.2808)">
<rect x="-1" y="-1" width="28" height="28" fill="#ff3c00"/>
<path fill="#00ff8c" d="M-1 -1h2v1h-2zM4 -1h1v1h-1zM7 -1h1v1h-1zM10 -1h1v1h-1zM16 -1h1v1h-1zM18 -1h2v1h-2zM23 -1h1v1h-1zM-1 0h2v1h-2zM4 0h1v1h-1zM7 0h1v1h-1zM10 0h1v1h-1zM16 0h1v1h-1zM18 0h2v1h-2zM23 0h1v1h-1zM-1 3h2v1h-2zM-1 5h2v1h-2zM2 6h1v1h-1zM12 6h1v1h-1zM16 6h1v1h-1zM20 6h2v1h-2zM-1 7h2v1h-2zM25 9h2v1h-2zM1 12h1v1h-1zM6 12h1v1h-1zM-1 13h2v1h-2zM2 13h1v1h-1zM10 13h1v1h-1zM12 13h1v1h-1zM17 13h4v1h-4zM25 15h2v1h-2zM25 18h2v1h-2zM1 19h1v1h-1zM9 19h1v1h-1zM-1 20h2v1h-2zM5 20h1v1h-1zM10 20h1v1h-1zM15 20h1v1h-1zM20 20h3v1h-3z"/>
<path fill="#8cff23" d="M1 -1h1v1h-1zM6 -1h1v1h-1zM11 -1h1v1h-1zM17 -1h1v1h-1zM1 0h1v1h-1zM6 0h1v1h-1zM11 0h1v1h-1zM17 0h1v1h-1zM2 5h1v1h-1zM7 5h2v1h-2zM17 6h3v1h-3zM22 6h3v1h-3zM22 7h1v1h-1zM-1 8h2v1h-2zM2 12h1v1h-1zM5 12h1v1h-1zM7 12h1v1h-1zM3 13h1v1h-1zM6 13h1v1h-1zM11 13h1v1h-1zM22 13h1v1h-1zM25 16h2v1h-2zM25 17h2v1h-2zM15 19h1v1h-1zM4 20h1v1h-1zM6 20h1v1h-1zM23 20h1v1h-1zM1 25h1v1h-1zM1 26h1v1h-1z"/>
<path fill="#00ffe6" d="M2 -1h2v1h-2zM8 -1h2v1h-2zM12 -1h1v1h-1zM15 -1h1v1h-1zM2 0h2v1h-2zM8 0h2v1h-2zM12 0h1v1h-1zM15 0h1v1h-1zM-1 2h2v1h-2zM3 6h1v1h-1zM6 6h3v1h-3zM11 6h1v1h-1zM13 6h2v1h-2zM7 13h1v1h-1zM9 13h1v1h-1zM15 13h1v1h-1zM23 13h2v1h-2zM-1 19h2v1h-2zM2 19h3v1h-3zM7 19h2v1h-2zM13 19h1v1h-1zM16 20h2v1h-2zM-1 25h2v1h-2zM-1 26h2v1h-2z"/>
<path fill="#c8ff00" d="M5 -1h1v1h-1zM21 -1h2v1h-2zM5 0h1v1h-1zM21 0h2v1h-2zM25 1h2v1h-2zM25 2h2v1h-2zM25 3h2v1h-2zM9 5h1v1h-1zM25 5h2v1h-2zM17 7h1v1h-1zM25 7h2v1h-2zM-1 9h2v1h-2zM25 10h2v1h-2zM1 13h1v1h-1zM16 13h1v1h-1zM21 13h1v1h-1zM16 19h1v1h-1zM18 19h3v1h-3zM9 20h1v1h-1zM12 20h1v1h-1zM14 20h1v1h-1zM18 20h1v1h-1z"/>
<path fill="#0055ff" d="M13 -1h2v1h-2zM13 0h2v1h-2zM-1 6h2v1h-2zM25 19h2v1h-2z"/>
<path fill="#00ff5f" d="M20 -1h1v1h-1zM20 0h1v1h-1zM1 6h1v1h-1zM23 7h1v1h-1zM5 19h2v1h-2zM14 19h1v1h-1zM11 20h1v1h-1zM4 25h2v1h-2zM4 26h2v1h-2z"/>
<path fill="#00b9ff" d="M24 -1h1v1h-1zM24 0h1v1h-1zM10 6h1v1h-1zM25 6h2v1h-2zM-1 12h2v1h-2zM13 13h2v1h-2z"/>
<path fill="#0023ff" d="M25 -1h2v1h-2zM25 0h2v1h-2z"/>
<path fill="#00e4ff" d="M-1 1h2v1h-2zM4 6h2v1h-2zM15 6h1v1h-1zM8 13h1v1h-1zM25 14h2v1h-2zM25 22h2v1h-2zM25 23h2v1h-2z"/>
<path fill="#ff7d00" d="M1 1h3v1h-3zM9 1h1v1h-1zM12 1h3v1h-3zM21 1h2v1h-2zM2 2h4v1h-4zM13 2h1v1h-1zM16 2h2v1h-2zM1 3h1v1h-1zM3 3h2v1h-2zM10 3h2v1h-2zM14 3h1v1h-1zM3 4h2v1h-2zM6 4h3v1h-3zM12 4h3v1h-3zM5 5h1v1h-1zM11 5h1v1h-1zM15 5h3v1h-3zM3 7h3v1h-3zM9 7h1v1h-1zM15 7h1v1h-1zM1 8h2v1h-2zM7 8h1v1h-1zM11 8h1v1h-1zM13 8h1v1h-1zM1 9h9v1h-9zM14 9h2v1h-2zM2 10h2v1h-2zM7 10h3v1h-3zM2 11h1v1h-1zM8 11h1v1h-1zM9 12h1v1h-1zM16 12h1v1h-1zM18 12h1v1h-1zM20 12h2v1h-2zM23 12h2v1h-2zM-1 14h2v1h-2zM8 14h1v1h-1zM15 14h2v1h-2zM-1 15h2v1h-2zM-1 16h2v1h-2zM2 16h1v1h-1zM5 16h1v1h-1zM11 16h1v1h-1zM-1 17h2v1h-2zM5 17h1v1h-1zM24 17h1v1h-1zM6 18h1v1h-1zM9 18h1v1h-1zM11 19h1v1h-1zM21 19h3v1h-3zM-1 21h2v1h-2zM2 21h1v1h-1zM6 21h1v1h-1zM21 21h3v1h-3zM-1 22h2v1h-2zM2 22h1v1h-1zM7 22h2v1h-2zM12 22h1v1h-1zM2 23h2v1h-2zM7 23h2v1h-2zM11 23h1v1h-1zM22 23h1v1h-1zM3 24h1v1h-1zM5 24h1v1h-1zM7 24h2v1h-2zM11 25h1v1h-1zM14 25h2v1h-2zM11 26h1v1h-1zM14 26h2v1h-2z"/>
<path fill="#ffbe00" d="M5 1h3v1h-3zM10 1h2v1h-2zM15 1h2v1h-2zM6 2h1v1h-1zM10 2h3v1h-3zM14 2h2v1h-2zM2 3h1v1h-1zM5 3h5v1h-5zM12 3h2v1h-2zM15 3h3v1h-3zM5 4h1v1h-1zM9 4h1v1h-1zM16 4h2v1h-2zM4 5h1v1h-1zM6 5h1v1h-1zM10 5h1v1h-1zM12 5h1v1h-1zM14 5h1v1h-1zM18 5h1v1h-1zM1 7h2v1h-2zM8 7h1v1h-1zM10 7h1v1h-1zM13 7h1v1h-1zM16 7h1v1h-1zM18 7h3v1h-3zM21 9h1v1h-1zM12 10h1v1h-1zM22 10h1v1h-1zM3 12h2v1h-2zM8 12h1v1h-1zM10 12h1v1h-1zM14 12h1v1h-1zM17 12h1v1h-1zM22 12h1v1h-1zM25 12h2v1h-2zM9 14h2v1h-2zM21 14h2v1h-2zM8 16h1v1h-1zM17 19h1v1h-1zM24 19h1v1h-1zM2 20h1v1h-1zM8 20h1v1h-1zM-1 23h2v1h-2zM5 23h2v1h-2zM-1 24h2v1h-2zM2 25h2v1h-2zM6 25h1v1h-1zM9 25h2v1h-2zM2 26h2v1h-2zM6 26h1v1h-1zM9 26h2v1h-2z"/>
<path fill="#ff1400" d="M18 1h3v1h-3zM24 1h1v1h-1zM20 2h4v1h-4zM20 3h1v1h-1zM24 5h1v1h-1zM15 8h3v1h-3zM23 8h2v1h-2zM11 9h1v1h-1zM16 9h1v1h-1zM18 9h1v1h-1zM23 9h2v1h-2zM4 10h1v1h-1zM11 10h1v1h-1zM15 10h1v1h-1zM18 10h2v1h-2zM24 10h1v1h-1zM1 11h1v1h-1zM7 11h1v1h-1zM13 11h2v1h-2zM16 11h3v1h-3zM20 11h1v1h-1zM22 11h1v1h-1zM19 12h1v1h-1zM1 14h1v1h-1zM13 14h1v1h-1zM17 14h3v1h-3zM24 14h1v1h-1zM9 15h3v1h-3zM15 15h4v1h-4zM20 15h2v1h-2zM23 15h2v1h-2zM4 16h1v1h-1zM12 16h1v1h-1zM16 16h3v1h-3zM20 16h2v1h-2zM23 16h2v1h-2zM1 17h2v1h-2zM6 17h1v1h-1zM10 17h2v1h-2zM16 17h7v1h-7zM10 18h3v1h-3zM14 18h2v1h-2zM17 18h1v1h-1zM19 18h6v1h-6zM4 21h1v1h-1zM7 21h2v1h-2zM14 21h2v1h-2zM20 21h1v1h-1zM24 21h1v1h-1zM11 22h1v1h-1zM14 22h1v1h-1zM16 22h1v1h-1zM18 22h1v1h-1zM21 22h4v1h-4zM1 23h1v1h-1zM14 23h1v1h-1zM16 23h1v1h-1zM18 23h3v1h-3zM9 24h6v1h-6zM17 24h4v1h-4zM23 24h1v1h-1zM24 25h1v1h-1zM24 26h1v1h-1z"/>
<path fill="#ffeb00" d="M7 2h1v1h-1zM-1 4h2v1h-2zM25 4h2v1h-2zM1 5h1v1h-1zM3 5h1v1h-1zM13 5h1v1h-1zM6 7h2v1h-2zM11 7h2v1h-2zM21 7h1v1h-1zM24 7h1v1h-1zM25 8h2v1h-2zM-1 10h2v1h-2zM-1 11h2v1h-2zM25 11h2v1h-2zM11 12h3v1h-3zM4 13h2v1h-2zM-1 18h2v1h-2zM10 19h1v1h-1zM12 19h1v1h-1zM1 20h1v1h-1zM3 20h1v1h-1zM7 20h1v1h-1zM13 20h1v1h-1zM19 20h1v1h-1zM24 20h1v1h-1z"/>
<path fill="#fa0000" d="M18 4h1v1h-1zM20 4h1v1h-1zM22 4h3v1h-3zM19 5h2v1h-2zM22 5h2v1h-2zM19 15h1v1h-1zM19 16h1v1h-1zM18 18h1v1h-1zM10 21h1v1h-1zM10 22h1v1h-1zM15 22h1v1h-1zM13 23h1v1h-1z"/>
<path fill="#0087ff" d="M9 6h1v1h-1zM25 21h2v1h-2zM25 24h2v1h-2z"/>
<path fill="#0000eb" d="M25 13h2v1h-2zM25 25h2v1h-2zM25 26h2v1h-2z"/>
<path fill="#0000b4" d="M25 20h2v1h-2z"/>
</g></g></g>
<clipPath id="cp8"><rect x="935.60" y="1716.00" width="620.40" height="683.30"/></clipPath>
<g clip-path="url(#cp8)"><g filter="url(#bl)"><g transform="translate(935.60 1716.00) scale(23.8615 26.2808)">
<rect x="-1" y="-1" width="28" height="28" fill="#ffbe00"/>
<path fill="#00e4ff" d="M-1 -1h2v1h-2zM2 -1h2v1h-2zM8 -1h1v1h-1zM-1 0h2v1h-2zM2 0h2v1h-2zM8 0h1v1h-1zM-1 1h2v1h-2zM-1 2h2v1h-2zM-1 3h2v1h-2zM11 6h1v1h-1zM13 6h1v1h-1zM20 6h1v1h-1zM3 13h2v1h-2zM6 13h1v1h-1zM15 13h2v1h-2zM22 13h1v1h-1zM25 17h2v1h-2zM5 19h1v1h-1zM7 19h1v1h-1zM15 19h1v1h-1zM9 20h4v1h-4zM15 20h1v1h-1zM18 20h1v1h-1zM20 20h1v1h-1z"/>
<path fill="#00ff8c" d="M1 -1h1v1h-1zM7 -1h1v1h-1zM11 -1h1v1h-1zM1 0h1v1h-1zM7 0h1v1h-1zM11 0h1v1h-1zM1 5h3v1h-3zM6 5h1v1h-1zM9 5h1v1h-1zM25 5h2v1h-2zM1 6h1v1h-1zM16 7h1v1h-1zM18 7h1v1h-1zM22 7h1v1h-1zM24 7h3v1h-3zM-1 9h2v1h-2zM25 9h2v1h-2zM-1 10h2v1h-2zM25 10h2v1h-2zM-1 11h2v1h-2zM1 12h1v1h-1zM4 12h1v1h-1zM10 12h1v1h-1zM16 12h1v1h-1zM25 16h2v1h-2zM6 19h1v1h-1zM12 19h1v1h-1zM20 19h1v1h-1zM1 20h1v1h-1zM4 20h1v1h-1zM8 20h1v1h-1zM13 20h2v1h-2zM19 20h1v1h-1zM3 25h1v1h-1zM3 26h1v1h-1z"/>
<path fill="#00ffe6" d="M4 -1h1v1h-1zM10 -1h1v1h-1zM21 -1h2v1h-2zM4 0h1v1h-1zM10 0h1v1h-1zM21 0h2v1h-2zM-1 4h2v1h-2zM7 5h2v1h-2zM2 6h1v1h-1zM6 6h2v1h-2zM12 6h1v1h-1zM18 6h2v1h-2zM22 6h3v1h-3zM-1 7h2v1h-2zM23 7h1v1h-1zM5 12h2v1h-2zM-1 13h3v1h-3zM5 13h1v1h-1zM10 13h2v1h-2zM20 13h2v1h-2zM25 15h2v1h-2zM1 19h1v1h-1zM10 19h1v1h-1zM16 19h1v1h-1zM19 19h1v1h-1zM-1 20h2v1h-2zM5 20h3v1h-3zM24 20h1v1h-1zM-1 25h2v1h-2zM4 25h2v1h-2zM-1 26h2v1h-2zM4 26h2v1h-2z"/>
<path fill="#8cff23" d="M5 -1h2v1h-2zM5 0h2v1h-2zM16 1h2v1h-2zM16 2h2v1h-2zM16 3h1v1h-1zM4 5h1v1h-1zM13 5h1v1h-1zM18 5h1v1h-1zM9 7h4v1h-4zM19 7h3v1h-3zM-1 8h2v1h-2zM9 9h1v1h-1zM2 12h2v1h-2zM7 12h1v1h-1zM11 12h3v1h-3zM25 12h2v1h-2zM15 14h2v1h-2zM17 19h1v1h-1zM21 19h1v1h-1zM24 19h1v1h-1zM6 23h1v1h-1zM8 25h2v1h-2zM8 26h2v1h-2z"/>
<path fill="#0055ff" d="M9 -1h1v1h-1zM15 -1h3v1h-3zM19 -1h2v1h-2zM9 0h1v1h-1zM15 0h3v1h-3zM19 0h2v1h-2zM3 6h2v1h-2zM8 6h1v1h-1zM17 13h1v1h-1zM23 13h1v1h-1zM2 19h2v1h-2zM8 19h2v1h-2zM16 20h2v1h-2z"/>
<path fill="#00b9ff" d="M12 -1h1v1h-1zM12 0h1v1h-1zM17 6h1v1h-1zM21 6h1v1h-1zM-1 19h2v1h-2zM4 19h1v1h-1zM13 19h1v1h-1zM21 20h3v1h-3zM25 22h2v1h-2z"/>
<path fill="#0023ff" d="M13 -1h1v1h-1zM23 -1h1v1h-1zM13 0h1v1h-1zM23 0h1v1h-1zM-1 6h2v1h-2zM10 6h1v1h-1zM14 6h3v1h-3zM-1 12h2v1h-2zM14 13h1v1h-1zM18 13h1v1h-1zM25 14h2v1h-2z"/>
<path fill="#0000eb" d="M14 -1h1v1h-1zM18 -1h1v1h-1zM24 -1h1v1h-1zM14 0h1v1h-1zM18 0h1v1h-1zM24 0h1v1h-1zM9 6h1v1h-1zM25 6h2v1h-2zM8 13h1v1h-1zM13 13h1v1h-1zM25 19h2v1h-2zM25 23h2v1h-2z"/>
<path fill="#0000b4" d="M25 -1h2v1h-2zM25 0h2v1h-2zM25 13h2v1h-2zM25 20h2v1h-2zM25 24h2v1h-2zM25 25h2v1h-2zM25 26h2v1h-2z"/>
<path fill="#ff3c00" d="M1 1h1v1h-1zM19 1h1v1h-1zM1 2h1v1h-1zM20 2h2v1h-2zM21 3h1v1h-1zM1 4h3v1h-3zM23 4h1v1h-1zM21 5h2v1h-2zM19 8h1v1h-1zM23 8h4v1h-4zM3 9h1v1h-1zM10 10h1v1h-1zM18 10h3v1h-3zM2 11h3v1h-3zM10 11h1v1h-1zM13 11h1v1h-1zM18 11h2v1h-2zM24 11h1v1h-1zM24 12h1v1h-1zM18 14h1v1h-1zM3 15h1v1h-1zM11 15h2v1h-2zM15 15h1v1h-1zM20 15h1v1h-1zM4 16h2v1h-2zM17 16h2v1h-2zM1 17h2v1h-2zM5 17h1v1h-1zM11 17h1v1h-1zM21 17h4v1h-4zM4 18h1v1h-1zM9 18h3v1h-3zM20 18h2v1h-2zM1 21h1v1h-1zM10 21h2v1h-2zM1 22h1v1h-1zM10 22h2v1h-2zM13 22h2v1h-2zM20 22h3v1h-3zM10 23h4v1h-4zM10 24h2v1h-2zM15 24h2v1h-2zM18 24h2v1h-2zM24 24h1v1h-1z"/>
<path fill="#ffeb00" d="M2 1h1v1h-1zM5 1h4v1h-4zM11 1h1v1h-1zM15 1h1v1h-1zM18 1h1v1h-1zM22 1h2v1h-2zM5 2h1v1h-1zM10 2h1v1h-1zM12 2h1v1h-1zM14 2h1v1h-1zM6 3h3v1h-3zM13 3h2v1h-2zM8 4h2v1h-2zM18 4h1v1h-1zM10 5h1v1h-1zM12 5h1v1h-1zM15 5h1v1h-1zM1 7h1v1h-1zM3 7h2v1h-2zM7 7h2v1h-2zM14 7h1v1h-1zM3 8h1v1h-1zM2 9h1v1h-1zM13 10h2v1h-2zM22 10h1v1h-1zM9 11h1v1h-1zM14 12h2v1h-2zM17 12h1v1h-1zM21 12h2v1h-2zM-1 14h2v1h-2zM10 14h1v1h-1zM13 14h2v1h-2zM20 14h1v1h-1zM22 14h2v1h-2zM-1 15h2v1h-2zM8 15h1v1h-1zM13 16h1v1h-1zM23 21h2v1h-2zM7 22h2v1h-2zM-1 24h2v1h-2zM6 24h1v1h-1zM6 25h2v1h-2zM14 25h1v1h-1zM6 26h2v1h-2zM14 26h1v1h-1z"/>
<path fill="#ff7d00" d="M3 1h2v1h-2zM24 1h1v1h-1zM12 3h1v1h-1zM20 3h1v1h-1zM22 3h1v1h-1zM4 4h2v1h-2zM10 4h6v1h-6zM19 4h3v1h-3zM11 5h1v1h-1zM20 5h1v1h-1zM23 5h2v1h-2zM6 8h1v1h-1zM11 8h3v1h-3zM15 8h1v1h-1zM17 8h2v1h-2zM20 8h1v1h-1zM22 8h1v1h-1zM4 9h2v1h-2zM11 9h2v1h-2zM14 9h6v1h-6zM23 9h2v1h-2zM1 10h2v1h-2zM7 10h1v1h-1zM15 10h3v1h-3zM1 11h1v1h-1zM5 11h2v1h-2zM15 11h3v1h-3zM20 11h1v1h-1zM23 11h1v1h-1zM18 12h1v1h-1zM1 14h2v1h-2zM6 14h2v1h-2zM11 14h2v1h-2zM17 14h1v1h-1zM19 14h1v1h-1zM1 15h1v1h-1zM10 15h1v1h-1zM16 15h2v1h-2zM22 15h3v1h-3zM1 16h1v1h-1zM6 16h2v1h-2zM10 16h3v1h-3zM15 16h2v1h-2zM21 16h1v1h-1zM24 16h1v1h-1zM3 17h2v1h-2zM6 17h1v1h-1zM9 17h2v1h-2zM12 17h2v1h-2zM18 17h1v1h-1zM1 18h3v1h-3zM5 18h1v1h-1zM8 18h1v1h-1zM12 18h6v1h-6zM19 18h1v1h-1zM23 18h1v1h-1zM5 21h4v1h-4zM12 21h2v1h-2zM15 21h2v1h-2zM19 21h3v1h-3zM12 22h1v1h-1zM15 22h2v1h-2zM23 22h2v1h-2zM1 23h2v1h-2zM8 23h1v1h-1zM14 23h3v1h-3zM19 23h2v1h-2zM24 23h1v1h-1zM2 24h1v1h-1zM8 24h2v1h-2zM12 24h3v1h-3zM17 24h1v1h-1zM20 24h1v1h-1zM22 24h1v1h-1zM19 25h1v1h-1zM24 25h1v1h-1zM19 26h1v1h-1zM24 26h1v1h-1z"/>
<path fill="#c8ff00" d="M9 1h2v1h-2zM14 1h1v1h-1zM6 2h4v1h-4zM13 2h1v1h-1zM15 2h1v1h-1zM9 3h1v1h-1zM15 3h1v1h-1zM17 3h1v1h-1zM16 4h2v1h-2zM24 4h3v1h-3zM5 5h1v1h-1zM14 5h1v1h-1zM17 5h1v1h-1zM5 7h2v1h-2zM13 7h1v1h-1zM15 7h1v1h-1zM9 8h2v1h-2zM8 9h1v1h-1zM10 9h1v1h-1zM25 11h2v1h-2zM8 12h1v1h-1zM23 12h1v1h-1zM9 14h1v1h-1zM21 14h1v1h-1zM-1 16h2v1h-2zM8 16h1v1h-1zM-1 17h2v1h-2zM-1 18h2v1h-2zM23 19h1v1h-1zM2 20h2v1h-2zM-1 21h2v1h-2zM1 25h1v1h-1zM10 25h1v1h-1zM1 26h1v1h-1zM10 26h1v1h-1z"/>
<path fill="#0087ff" d="M-1 5h2v1h-2zM5 6h1v1h-1zM2 13h1v1h-1zM7 13h1v1h-1zM9 13h1v1h-1zM12 13h1v1h-1zM19 13h1v1h-1zM24 13h1v1h-1zM25 18h2v1h-2zM14 19h1v1h-1zM25 21h2v1h-2z"/>
<path fill="#00ff5f" d="M17 7h1v1h-1zM9 12h1v1h-1zM11 19h1v1h-1zM18 19h1v1h-1zM2 25h1v1h-1zM2 26h1v1h-1z"/>
<path fill="#ff1400" d="M24 10h1v1h-1zM19 12h1v1h-1zM18 15h2v1h-2zM19 16h2v1h-2zM19 17h2v1h-2zM22 18h1v1h-1z"/>
<path fill="#fa0000" d="M18 18h1v1h-1zM24 18h1v1h-1z"/>
</g></g></g>
<clipPath id="cp9"><rect x="1655.70" y="1716.00" width="616.30" height="683.30"/></clipPath>
<g clip-path="url(#cp9)"><g filter="url(#bl)"><g transform="translate(1655.70 1716.00) scale(23.7038 26.2808)">
<rect x="-1" y="-1" width="28" height="28" fill="#c8ff00"/>
<path fill="#0000eb" d="M-1 -1h2v1h-2zM14 -1h2v1h-2zM-1 0h2v1h-2zM14 0h2v1h-2zM-1 6h2v1h-2zM9 6h1v1h-1zM14 6h2v1h-2zM25 6h2v1h-2zM-1 12h2v1h-2zM8 13h1v1h-1zM13 13h2v1h-2zM17 13h2v1h-2zM25 13h2v1h-2zM8 19h1v1h-1zM13 19h2v1h-2zM25 20h2v1h-2zM25 21h2v1h-2zM25 22h2v1h-2zM25 25h2v1h-2zM25 26h2v1h-2z"/>
<path fill="#00ffe6" d="M1 -1h1v1h-1zM10 -1h1v1h-1zM21 -1h2v1h-2zM1 0h1v1h-1zM10 0h1v1h-1zM21 0h2v1h-2zM-1 2h2v1h-2zM-1 3h2v1h-2zM25 3h2v1h-2zM-1 4h2v1h-2zM25 4h2v1h-2zM25 5h2v1h-2zM1 6h1v1h-1zM23 6h2v1h-2zM11 7h2v1h-2zM15 7h3v1h-3zM25 7h2v1h-2zM-1 9h2v1h-2zM-1 10h2v1h-2zM-1 11h2v1h-2zM25 11h2v1h-2zM1 12h1v1h-1zM10 12h3v1h-3zM25 12h2v1h-2zM-1 13h2v1h-2zM4 13h2v1h-2zM10 13h2v1h-2zM20 13h2v1h-2zM5 19h1v1h-1zM10 19h2v1h-2zM16 19h1v1h-1zM19 19h2v1h-2zM3 20h1v1h-1zM5 20h3v1h-3zM13 20h2v1h-2zM17 20h1v1h-1z"/>
<path fill="#00e4ff" d="M2 -1h1v1h-1zM8 -1h1v1h-1zM12 -1h1v1h-1zM2 0h1v1h-1zM8 0h1v1h-1zM12 0h1v1h-1zM21 6h2v1h-2zM21 7h2v1h-2zM1 13h1v1h-1zM22 13h1v1h-1zM25 14h2v1h-2zM25 16h2v1h-2zM25 18h2v1h-2zM4 19h1v1h-1zM6 19h1v1h-1zM4 20h1v1h-1zM8 20h1v1h-1zM12 20h1v1h-1zM19 20h1v1h-1zM24 20h1v1h-1zM-1 25h2v1h-2zM-1 26h2v1h-2z"/>
<path fill="#00b9ff" d="M3 -1h2v1h-2zM18 -1h1v1h-1zM23 -1h1v1h-1zM3 0h2v1h-2zM18 0h1v1h-1zM23 0h1v1h-1zM2 6h1v1h-1zM6 6h2v1h-2zM11 6h2v1h-2zM20 6h1v1h-1zM6 13h1v1h-1zM25 17h2v1h-2zM3 19h1v1h-1z"/>
<path fill="#00ff8c" d="M5 -1h1v1h-1zM7 -1h1v1h-1zM11 -1h1v1h-1zM5 0h1v1h-1zM7 0h1v1h-1zM11 0h1v1h-1zM16 3h1v1h-1zM1 5h2v1h-2zM6 5h2v1h-2zM12 5h1v1h-1zM17 5h1v1h-1zM-1 7h2v1h-2zM10 7h1v1h-1zM14 7h1v1h-1zM18 7h2v1h-2zM23 7h1v1h-1zM17 9h1v1h-1zM22 10h1v1h-1zM25 10h2v1h-2zM2 12h1v1h-1zM4 12h4v1h-4zM13 12h5v1h-5zM14 14h3v1h-3zM-1 15h2v1h-2zM13 15h1v1h-1zM13 16h1v1h-1zM17 16h1v1h-1zM21 19h1v1h-1zM-1 20h4v1h-4zM18 20h1v1h-1zM9 22h1v1h-1zM12 22h2v1h-2zM15 23h2v1h-2zM11 24h1v1h-1zM13 24h2v1h-2zM3 25h2v1h-2zM9 25h1v1h-1zM13 25h3v1h-3zM3 26h2v1h-2zM9 26h1v1h-1zM13 26h3v1h-3z"/>
<path fill="#8cff23" d="M6 -1h1v1h-1zM6 0h1v1h-1zM14 2h1v1h-1zM17 2h1v1h-1zM25 2h2v1h-2zM14 3h1v1h-1zM9 4h1v1h-1zM14 4h5v1h-5zM8 5h4v1h-4zM13 5h4v1h-4zM19 5h1v1h-1zM5 7h1v1h-1zM7 7h1v1h-1zM9 7h1v1h-1zM13 7h1v1h-1zM14 8h1v1h-1zM25 8h2v1h-2zM13 9h1v1h-1zM18 9h2v1h-2zM21 9h2v1h-2zM25 9h2v1h-2zM9 10h2v1h-2zM18 10h2v1h-2zM13 11h2v1h-2zM3 12h1v1h-1zM8 12h2v1h-2zM22 12h1v1h-1zM8 14h1v1h-1zM11 14h3v1h-3zM17 14h1v1h-1zM21 14h1v1h-1zM24 14h1v1h-1zM10 15h1v1h-1zM16 15h2v1h-2zM8 16h1v1h-1zM14 16h3v1h-3zM9 17h1v1h-1zM13 17h4v1h-4zM8 18h1v1h-1zM24 19h1v1h-1zM9 21h1v1h-1zM14 21h2v1h-2zM24 21h1v1h-1zM10 22h2v1h-2zM14 22h2v1h-2zM5 23h1v1h-1zM8 23h4v1h-4zM13 23h1v1h-1zM18 23h1v1h-1zM-1 24h2v1h-2zM9 24h1v1h-1zM12 24h1v1h-1zM15 24h2v1h-2zM1 25h1v1h-1zM5 25h1v1h-1zM7 25h2v1h-2zM10 25h1v1h-1zM12 25h1v1h-1zM16 25h1v1h-1zM20 25h1v1h-1zM1 26h1v1h-1zM5 26h1v1h-1zM7 26h2v1h-2zM10 26h1v1h-1zM12 26h1v1h-1zM16 26h1v1h-1zM20 26h1v1h-1z"/>
<path fill="#0087ff" d="M9 -1h1v1h-1zM17 -1h1v1h-1zM9 0h1v1h-1zM17 0h1v1h-1zM5 6h1v1h-1zM8 6h1v1h-1zM9 13h1v1h-1zM12 13h1v1h-1zM16 13h1v1h-1zM19 13h1v1h-1zM23 13h2v1h-2zM-1 19h3v1h-3zM9 19h1v1h-1zM15 19h1v1h-1zM9 20h3v1h-3zM15 20h1v1h-1zM22 20h2v1h-2z"/>
<path fill="#0023ff" d="M13 -1h1v1h-1zM19 -1h2v1h-2zM24 -1h1v1h-1zM13 0h1v1h-1zM19 0h2v1h-2zM24 0h1v1h-1zM3 6h2v1h-2zM10 6h1v1h-1zM13 6h1v1h-1zM7 13h1v1h-1zM7 19h1v1h-1zM16 20h1v1h-1zM25 23h2v1h-2zM25 24h2v1h-2z"/>
<path fill="#0055ff" d="M16 -1h1v1h-1zM16 0h1v1h-1zM-1 1h2v1h-2zM-1 5h2v1h-2zM16 6h4v1h-4zM2 13h2v1h-2zM15 13h1v1h-1zM2 19h1v1h-1zM12 19h1v1h-1zM25 19h2v1h-2zM20 20h2v1h-2z"/>
<path fill="#0000b4" d="M25 -1h2v1h-2zM25 0h2v1h-2z"/>
<path fill="#ffbe00" d="M1 1h5v1h-5zM18 1h1v1h-1zM21 1h2v1h-2zM24 1h1v1h-1zM1 2h1v1h-1zM3 2h2v1h-2zM19 2h1v1h-1zM22 2h1v1h-1zM2 3h4v1h-4zM20 3h3v1h-3zM24 3h1v1h-1zM2 4h2v1h-2zM7 4h1v1h-1zM10 4h1v1h-1zM21 4h1v1h-1zM24 4h1v1h-1zM20 5h1v1h-1zM24 5h1v1h-1zM3 7h1v1h-1zM1 8h2v1h-2zM4 8h4v1h-4zM23 8h1v1h-1zM1 9h5v1h-5zM23 9h1v1h-1zM1 10h1v1h-1zM3 10h1v1h-1zM5 10h1v1h-1zM4 11h4v1h-4zM10 11h1v1h-1zM18 11h3v1h-3zM1 14h1v1h-1zM3 14h1v1h-1zM1 15h1v1h-1zM5 15h1v1h-1zM8 15h1v1h-1zM18 15h1v1h-1zM22 15h2v1h-2zM1 16h2v1h-2zM20 16h3v1h-3zM1 17h2v1h-2zM6 17h2v1h-2zM10 17h1v1h-1zM1 18h1v1h-1zM3 18h2v1h-2zM10 18h1v1h-1zM21 18h1v1h-1zM1 21h1v1h-1zM3 21h1v1h-1zM20 21h1v1h-1zM3 22h2v1h-2zM6 22h2v1h-2zM1 23h1v1h-1zM21 23h1v1h-1zM23 23h1v1h-1zM6 24h2v1h-2zM17 24h2v1h-2zM23 24h1v1h-1zM21 25h1v1h-1zM23 25h1v1h-1zM21 26h1v1h-1zM23 26h1v1h-1z"/>
<path fill="#ffeb00" d="M6 1h5v1h-5zM25 1h2v1h-2zM5 2h2v1h-2zM10 2h1v1h-1zM18 2h1v1h-1zM1 3h1v1h-1zM6 3h1v1h-1zM10 3h1v1h-1zM19 3h1v1h-1zM4 4h1v1h-1zM19 4h1v1h-1zM22 4h1v1h-1zM4 5h1v1h-1zM22 5h2v1h-2zM2 7h1v1h-1zM3 8h1v1h-1zM8 8h1v1h-1zM6 9h2v1h-2zM2 10h1v1h-1zM4 10h1v1h-1zM6 10h2v1h-2zM8 11h1v1h-1zM19 12h1v1h-1zM23 12h1v1h-1zM2 14h1v1h-1zM4 14h2v1h-2zM18 14h2v1h-2zM23 14h1v1h-1zM2 15h3v1h-3zM6 15h2v1h-2zM9 15h1v1h-1zM3 16h1v1h-1zM6 16h1v1h-1zM10 16h1v1h-1zM18 16h1v1h-1zM23 16h1v1h-1zM3 17h1v1h-1zM11 17h1v1h-1zM21 17h1v1h-1zM23 17h1v1h-1zM2 18h1v1h-1zM5 18h2v1h-2zM11 18h2v1h-2zM17 18h1v1h-1zM22 19h2v1h-2zM-1 21h2v1h-2zM2 21h1v1h-1zM4 21h2v1h-2zM7 21h2v1h-2zM10 21h2v1h-2zM18 21h2v1h-2zM21 21h1v1h-1zM23 21h1v1h-1zM1 22h2v1h-2zM19 22h1v1h-1zM23 22h1v1h-1zM-1 23h2v1h-2zM6 23h2v1h-2zM20 23h1v1h-1zM24 23h1v1h-1zM1 24h2v1h-2zM4 24h1v1h-1zM17 25h2v1h-2zM17 26h2v1h-2z"/>
<path fill="#ff7d00" d="M19 1h2v1h-2zM23 1h1v1h-1zM2 2h1v1h-1zM20 2h1v1h-1zM23 2h2v1h-2zM11 3h1v1h-1zM23 3h1v1h-1zM1 4h1v1h-1zM11 4h1v1h-1zM20 4h1v1h-1zM23 4h1v1h-1zM21 5h1v1h-1zM24 8h1v1h-1zM24 9h1v1h-1zM24 10h1v1h-1zM1 11h3v1h-3zM21 15h1v1h-1zM24 15h1v1h-1zM4 16h2v1h-2zM19 16h1v1h-1zM4 17h2v1h-2zM18 17h3v1h-3zM22 17h1v1h-1zM18 18h3v1h-3zM23 18h1v1h-1zM20 22h1v1h-1zM22 25h1v1h-1zM24 25h1v1h-1zM22 26h1v1h-1zM24 26h1v1h-1z"/>
<path fill="#00ff5f" d="M15 2h2v1h-2zM17 3h1v1h-1zM3 5h1v1h-1zM18 5h1v1h-1zM6 7h1v1h-1zM20 7h1v1h-1zM-1 8h2v1h-2zM13 8h1v1h-1zM14 9h3v1h-3zM12 10h6v1h-6zM10 14h1v1h-1zM25 15h2v1h-2zM-1 18h2v1h-2zM17 19h2v1h-2zM16 21h1v1h-1zM16 22h1v1h-1zM12 23h1v1h-1zM14 23h1v1h-1zM2 25h1v1h-1zM2 26h1v1h-1z"/>
<path fill="#ff3c00" d="M21 2h1v1h-1zM24 11h1v1h-1zM24 12h1v1h-1zM19 15h2v1h-2zM24 16h1v1h-1zM24 17h1v1h-1zM22 18h1v1h-1zM24 18h1v1h-1zM24 24h1v1h-1z"/>
</g></g></g>
<clipPath id="cp10"><rect x="216.30" y="2512.70" width="619.70" height="682.50"/></clipPath>
<g clip-path="url(#cp10)"><g filter="url(#bl)"><g transform="translate(216.30 2512.70) scale(23.8346 26.2500)">
<rect x="-1" y="-1" width="28" height="28" fill="#c8ff00"/>
<path fill="#0087ff" d="M-1 -1h2v1h-2zM-1 0h2v1h-2z"/>
<path fill="#00e4ff" d="M1 -1h1v1h-1zM1 0h1v1h-1zM-1 1h2v1h-2zM-1 2h2v1h-2zM-1 3h2v1h-2zM-1 4h2v1h-2zM-1 5h2v1h-2zM-1 6h2v1h-2zM-1 7h2v1h-2zM-1 8h2v1h-2zM-1 9h2v1h-2zM-1 10h2v1h-2zM-1 11h2v1h-2zM-1 12h2v1h-2z"/>
<path fill="#00ffe6" d="M2 -1h2v1h-2zM2 0h2v1h-2zM1 1h1v1h-1zM1 2h1v1h-1zM1 3h1v1h-1zM1 4h1v1h-1zM1 5h1v1h-1zM1 6h1v1h-1zM1 7h1v1h-1zM1 8h1v1h-1zM1 9h1v1h-1zM1 10h1v1h-1zM1 11h1v1h-1zM1 12h1v1h-1zM-1 13h2v1h-2zM-1 19h3v1h-3zM25 20h2v1h-2zM-1 25h2v1h-2zM25 25h2v1h-2zM-1 26h2v1h-2zM25 26h2v1h-2z"/>
<path fill="#00ff8c" d="M4 -1h1v1h-1zM12 -1h1v1h-1zM25 -1h2v1h-2zM4 0h1v1h-1zM12 0h1v1h-1zM25 0h2v1h-2zM2 1h1v1h-1zM25 1h2v1h-2zM2 2h1v1h-1zM25 2h2v1h-2zM2 3h1v1h-1zM25 3h2v1h-2zM2 4h1v1h-1zM25 4h2v1h-2zM2 5h1v1h-1zM25 5h2v1h-2zM2 6h1v1h-1zM4 6h1v1h-1zM7 6h1v1h-1zM12 6h3v1h-3zM23 6h4v1h-4zM25 7h2v1h-2zM25 8h2v1h-2zM25 9h2v1h-2zM25 10h2v1h-2zM25 11h2v1h-2zM25 12h2v1h-2zM25 13h2v1h-2zM-1 14h2v1h-2zM25 14h2v1h-2zM-1 15h2v1h-2zM25 15h2v1h-2zM-1 16h2v1h-2zM25 16h2v1h-2zM-1 17h2v1h-2zM25 17h2v1h-2zM-1 18h2v1h-2zM25 18h2v1h-2zM25 19h2v1h-2zM-1 20h2v1h-2zM-1 21h2v1h-2zM25 21h2v1h-2zM-1 22h2v1h-2zM25 22h2v1h-2zM-1 23h2v1h-2zM25 23h2v1h-2zM-1 24h2v1h-2zM25 24h2v1h-2zM1 25h1v1h-1zM1 26h1v1h-1z"/>
<path fill="#00ff5f" d="M5 -1h1v1h-1zM13 -1h1v1h-1zM24 -1h1v1h-1zM5 0h1v1h-1zM13 0h1v1h-1zM24 0h1v1h-1zM3 6h1v1h-1zM5 6h2v1h-2zM8 6h1v1h-1zM11 6h1v1h-1zM15 6h3v1h-3zM2 7h1v1h-1zM2 8h1v1h-1zM2 9h1v1h-1zM2 10h1v1h-1zM2 11h1v1h-1zM2 12h1v1h-1zM1 13h1v1h-1zM11 13h8v1h-8zM24 13h1v1h-1zM2 19h7v1h-7zM1 20h1v1h-1z"/>
<path fill="#8cff23" d="M6 -1h6v1h-6zM14 -1h10v1h-10zM6 0h6v1h-6zM14 0h10v1h-10zM3 1h1v1h-1zM24 1h1v1h-1zM3 2h1v1h-1zM24 2h1v1h-1zM3 3h1v1h-1zM24 3h1v1h-1zM3 4h1v1h-1zM24 4h1v1h-1zM3 5h1v1h-1zM24 5h1v1h-1zM9 6h2v1h-2zM18 6h5v1h-5zM2 13h9v1h-9zM19 13h5v1h-5zM1 14h2v1h-2zM1 15h2v1h-2zM1 16h2v1h-2zM1 17h2v1h-2zM1 18h2v1h-2zM9 19h16v1h-16zM2 20h1v1h-1zM1 21h1v1h-1zM1 22h1v1h-1zM1 23h1v1h-1zM1 24h1v1h-1zM2 25h1v1h-1zM2 26h1v1h-1z"/>
<path fill="#afff14" d="M9 1h9v1h-9zM9 2h9v1h-9zM9 3h9v1h-9zM9 4h9v1h-9zM4 5h20v1h-20zM3 20h22v1h-22zM8 21h10v1h-10zM8 22h10v1h-10zM8 23h10v1h-10zM8 24h10v1h-10zM3 25h22v1h-22zM3 26h22v1h-22z"/>
<path fill="#ffeb00" d="M22 1h2v1h-2zM7 2h2v1h-2zM22 2h2v1h-2zM7 3h2v1h-2zM23 3h1v1h-1zM8 4h1v1h-1zM18 8h3v1h-3zM22 8h1v1h-1zM18 9h3v1h-3zM22 9h1v1h-1zM18 10h3v1h-3zM22 10h1v1h-1zM18 11h3v1h-3zM22 11h1v1h-1zM20 12h1v1h-1zM7 14h10v1h-10zM22 14h1v1h-1zM7 15h10v1h-10zM22 15h1v1h-1zM6 16h4v1h-4zM11 16h1v1h-1zM13 16h4v1h-4zM22 16h1v1h-1zM12 17h7v1h-7zM14 18h6v1h-6zM3 21h5v1h-5zM18 21h5v1h-5zM3 22h1v1h-1zM5 22h3v1h-3zM18 22h5v1h-5zM3 23h1v1h-1zM5 23h3v1h-3zM18 23h5v1h-5zM4 24h4v1h-4zM19 24h4v1h-4z"/>
<path fill="#ffbe00" d="M21 8h1v1h-1zM21 9h1v1h-1zM21 10h1v1h-1zM21 11h1v1h-1zM21 12h1v1h-1zM10 16h1v1h-1zM12 16h1v1h-1zM4 22h1v1h-1zM4 23h1v1h-1z"/>
</g></g></g>
<clipPath id="cp11"><rect x="935.60" y="2512.70" width="620.40" height="682.50"/></clipPath>
<g clip-path="url(#cp11)"><g filter="url(#bl)"><g transform="translate(935.60 2512.70) scale(23.8615 26.2500)">
<rect x="-1" y="-1" width="28" height="28" fill="#fa0000"/>
<path fill="#00ff8c" d="M-1 -1h2v1h-2zM-1 0h2v1h-2z"/>
<path fill="#00ff5f" d="M1 -1h1v1h-1zM1 0h1v1h-1z"/>
<path fill="#8cff23" d="M2 -1h1v1h-1zM2 0h1v1h-1zM-1 1h2v1h-2zM-1 6h2v1h-2zM25 20h2v1h-2zM-1 25h2v1h-2zM-1 26h2v1h-2z"/>
<path fill="#ffeb00" d="M3 -1h1v1h-1zM3 0h1v1h-1zM1 1h1v1h-1zM-1 2h2v1h-2zM-1 3h2v1h-2zM-1 4h2v1h-2zM-1 5h2v1h-2zM1 6h1v1h-1zM25 6h2v1h-2zM-1 7h2v1h-2zM-1 8h2v1h-2zM-1 9h2v1h-2zM-1 10h2v1h-2zM-1 11h2v1h-2zM-1 12h2v1h-2zM-1 13h2v1h-2zM25 13h2v1h-2zM-1 19h2v1h-2zM25 19h2v1h-2zM1 25h1v1h-1zM25 25h2v1h-2zM1 26h1v1h-1zM25 26h2v1h-2z"/>
<path fill="#ff7d00" d="M4 -1h2v1h-2zM7 -1h2v1h-2zM10 -1h2v1h-2zM19 -1h3v1h-3zM23 -1h2v1h-2zM4 0h2v1h-2zM7 0h2v1h-2zM10 0h2v1h-2zM19 0h3v1h-3zM23 0h2v1h-2zM14 1h2v1h-2zM25 1h2v1h-2zM2 2h1v1h-1zM2 3h1v1h-1zM2 4h1v1h-1zM2 5h1v1h-1zM25 5h2v1h-2zM6 6h2v1h-2zM9 6h3v1h-3zM14 6h1v1h-1zM16 6h2v1h-2zM19 6h5v1h-5zM2 7h1v1h-1zM25 7h2v1h-2zM2 8h1v1h-1zM25 8h2v1h-2zM2 9h1v1h-1zM25 9h2v1h-2zM2 10h1v1h-1zM25 10h2v1h-2zM2 11h1v1h-1zM25 11h2v1h-2zM1 12h1v1h-1zM25 12h2v1h-2zM1 13h1v1h-1zM5 13h1v1h-1zM9 13h2v1h-2zM20 13h5v1h-5zM-1 14h2v1h-2zM25 14h2v1h-2zM-1 15h2v1h-2zM25 15h2v1h-2zM-1 16h2v1h-2zM-1 17h2v1h-2zM25 18h2v1h-2zM3 19h4v1h-4zM9 19h1v1h-1zM22 19h3v1h-3zM1 20h1v1h-1zM20 20h5v1h-5zM1 21h1v1h-1zM1 22h1v1h-1zM1 23h1v1h-1zM1 24h1v1h-1zM2 25h2v1h-2zM10 25h10v1h-10zM2 26h2v1h-2zM10 26h10v1h-10z"/>
<path fill="#ff3c00" d="M6 -1h1v1h-1zM22 -1h1v1h-1zM6 0h1v1h-1zM22 0h1v1h-1zM3 1h1v1h-1zM9 1h5v1h-5zM16 1h3v1h-3zM24 1h1v1h-1zM13 2h2v1h-2zM17 2h2v1h-2zM25 2h2v1h-2zM16 3h3v1h-3zM25 3h2v1h-2zM16 4h1v1h-1zM18 4h1v1h-1zM25 4h2v1h-2zM3 5h1v1h-1zM16 5h3v1h-3zM4 6h2v1h-2zM12 6h2v1h-2zM24 7h1v1h-1zM24 8h1v1h-1zM24 9h1v1h-1zM24 10h1v1h-1zM24 11h1v1h-1zM2 12h9v1h-9zM23 12h2v1h-2zM2 13h3v1h-3zM11 13h1v1h-1zM1 14h1v1h-1zM1 15h1v1h-1zM1 16h1v1h-1zM1 17h1v1h-1zM1 18h1v1h-1zM10 19h1v1h-1zM13 19h1v1h-1zM18 19h2v1h-2zM21 19h1v1h-1zM2 20h2v1h-2zM5 20h7v1h-7zM14 20h6v1h-6zM2 21h1v1h-1zM24 21h1v1h-1zM2 22h1v1h-1zM24 22h1v1h-1zM2 23h1v1h-1zM24 23h1v1h-1zM2 24h1v1h-1zM24 24h1v1h-1zM4 25h6v1h-6zM20 25h5v1h-5zM4 26h6v1h-6zM20 26h5v1h-5z"/>
<path fill="#ffbe00" d="M9 -1h1v1h-1zM12 -1h7v1h-7zM25 -1h2v1h-2zM9 0h1v1h-1zM12 0h7v1h-7zM25 0h2v1h-2zM2 1h1v1h-1zM1 2h1v1h-1zM1 3h1v1h-1zM1 4h1v1h-1zM1 5h1v1h-1zM2 6h2v1h-2zM8 6h1v1h-1zM15 6h1v1h-1zM18 6h1v1h-1zM24 6h1v1h-1zM1 7h1v1h-1zM1 8h1v1h-1zM1 9h1v1h-1zM1 10h1v1h-1zM1 11h1v1h-1zM6 13h3v1h-3zM12 13h8v1h-8zM25 16h2v1h-2zM25 17h2v1h-2zM-1 18h2v1h-2zM1 19h2v1h-2zM7 19h2v1h-2zM-1 20h2v1h-2zM-1 21h2v1h-2zM25 21h2v1h-2zM-1 22h2v1h-2zM25 22h2v1h-2zM-1 23h2v1h-2zM25 23h2v1h-2zM-1 24h2v1h-2zM25 24h2v1h-2z"/>
<path fill="#ff1400" d="M4 1h5v1h-5zM19 1h5v1h-5zM3 2h1v1h-1zM9 2h4v1h-4zM15 2h2v1h-2zM19 2h1v1h-1zM3 3h1v1h-1zM9 3h7v1h-7zM23 3h2v1h-2zM3 4h1v1h-1zM9 4h7v1h-7zM19 4h3v1h-3zM23 4h2v1h-2zM4 5h12v1h-12zM19 5h6v1h-6zM3 7h2v1h-2zM13 7h11v1h-11zM3 8h2v1h-2zM23 8h1v1h-1zM3 9h2v1h-2zM23 9h1v1h-1zM3 10h2v1h-2zM23 10h1v1h-1zM3 11h2v1h-2zM23 11h1v1h-1zM11 12h12v1h-12zM15 14h1v1h-1zM18 14h4v1h-4zM15 15h1v1h-1zM18 15h4v1h-4zM18 16h4v1h-4zM23 16h2v1h-2zM2 17h1v1h-1zM18 17h3v1h-3zM22 17h3v1h-3zM2 18h4v1h-4zM22 18h3v1h-3zM11 19h2v1h-2zM14 19h4v1h-4zM20 19h1v1h-1zM4 20h1v1h-1zM12 20h2v1h-2zM8 21h5v1h-5zM22 21h2v1h-2zM8 22h5v1h-5zM22 22h2v1h-2zM8 23h5v1h-5zM22 23h2v1h-2zM3 24h1v1h-1zM8 24h9v1h-9zM22 24h2v1h-2z"/>
<path fill="#cd0000" d="M10 15h1v1h-1zM11 16h2v1h-2zM16 18h1v1h-1z"/>
</g></g></g>
<clipPath id="cp12"><rect x="1655.70" y="2512.70" width="616.30" height="682.50"/></clipPath>
<g clip-path="url(#cp12)"><g filter="url(#bl)"><g transform="translate(1655.70 2512.70) scale(23.7038 26.2500)">
<rect x="-1" y="-1" width="28" height="28" fill="#00b9ff"/>
<path fill="#0000eb" d="M-1 -1h3v1h-3zM-1 0h3v1h-3zM-1 5h3v1h-3zM-1 6h3v1h-3zM-1 19h3v1h-3zM25 19h2v1h-2zM25 20h2v1h-2zM-1 25h2v1h-2zM-1 26h2v1h-2z"/>
<path fill="#0023ff" d="M2 -1h1v1h-1zM2 0h1v1h-1zM-1 1h3v1h-3zM-1 2h2v1h-2zM-1 3h2v1h-2zM-1 4h3v1h-3zM2 6h1v1h-1zM8 6h1v1h-1zM18 6h1v1h-1zM25 6h2v1h-2zM-1 7h2v1h-2zM-1 8h2v1h-2zM-1 9h2v1h-2zM-1 10h2v1h-2zM-1 11h2v1h-2zM-1 12h2v1h-2zM-1 13h2v1h-2zM7 13h1v1h-1zM-1 18h2v1h-2zM25 18h2v1h-2zM2 19h2v1h-2zM6 19h1v1h-1zM-1 22h3v1h-3zM1 25h2v1h-2zM25 25h2v1h-2zM1 26h2v1h-2zM25 26h2v1h-2z"/>
<path fill="#0055ff" d="M3 -1h1v1h-1zM12 -1h2v1h-2zM16 -1h2v1h-2zM3 0h1v1h-1zM12 0h2v1h-2zM16 0h2v1h-2zM2 1h1v1h-1zM1 2h1v1h-1zM1 3h1v1h-1zM2 4h1v1h-1zM2 5h1v1h-1zM3 6h5v1h-5zM9 6h9v1h-9zM19 6h6v1h-6zM1 7h1v1h-1zM1 8h1v1h-1zM1 9h1v1h-1zM1 12h1v1h-1zM1 13h6v1h-6zM8 13h1v1h-1zM11 13h4v1h-4zM17 13h3v1h-3zM25 13h2v1h-2zM-1 14h2v1h-2zM-1 15h2v1h-2zM-1 16h2v1h-2zM25 16h2v1h-2zM-1 17h2v1h-2zM25 17h2v1h-2zM1 18h1v1h-1zM4 19h2v1h-2zM7 19h2v1h-2zM23 19h2v1h-2zM-1 20h3v1h-3zM-1 21h2v1h-2zM25 21h2v1h-2zM25 22h2v1h-2zM-1 23h2v1h-2zM25 23h2v1h-2zM-1 24h2v1h-2zM25 24h2v1h-2zM3 25h1v1h-1zM3 26h1v1h-1z"/>
<path fill="#0087ff" d="M4 -1h8v1h-8zM14 -1h2v1h-2zM18 -1h2v1h-2zM25 -1h2v1h-2zM4 0h8v1h-8zM14 0h2v1h-2zM18 0h2v1h-2zM25 0h2v1h-2zM3 1h1v1h-1zM13 1h2v1h-2zM17 1h1v1h-1zM25 1h2v1h-2zM2 2h1v1h-1zM14 2h3v1h-3zM19 2h1v1h-1zM25 2h2v1h-2zM2 3h1v1h-1zM25 3h2v1h-2zM25 4h2v1h-2zM3 5h5v1h-5zM25 5h2v1h-2zM2 7h1v1h-1zM8 7h1v1h-1zM11 7h1v1h-1zM22 7h1v1h-1zM25 7h2v1h-2zM2 8h1v1h-1zM25 8h2v1h-2zM2 9h1v1h-1zM25 9h2v1h-2zM1 10h2v1h-2zM25 10h2v1h-2zM1 11h1v1h-1zM25 11h2v1h-2zM2 12h6v1h-6zM25 12h2v1h-2zM9 13h1v1h-1zM15 13h2v1h-2zM22 13h3v1h-3zM1 14h2v1h-2zM25 14h2v1h-2zM1 15h2v1h-2zM25 15h2v1h-2zM1 16h2v1h-2zM8 16h1v1h-1zM24 16h1v1h-1zM1 17h5v1h-5zM2 18h6v1h-6zM22 18h3v1h-3zM9 19h6v1h-6zM18 19h2v1h-2zM22 19h1v1h-1zM2 20h6v1h-6zM21 20h4v1h-4zM1 21h2v1h-2zM2 22h1v1h-1zM1 23h2v1h-2zM1 24h2v1h-2zM4 25h7v1h-7zM13 25h2v1h-2zM23 25h2v1h-2zM4 26h7v1h-7zM13 26h2v1h-2zM23 26h2v1h-2z"/>
<path fill="#00e4ff" d="M20 -1h2v1h-2zM20 0h2v1h-2zM21 1h3v1h-3zM21 2h3v1h-3zM7 3h1v1h-1zM18 3h1v1h-1zM21 3h3v1h-3zM8 4h1v1h-1zM17 4h2v1h-2zM22 4h1v1h-1zM13 7h2v1h-2zM18 7h1v1h-1zM10 8h2v1h-2zM22 8h1v1h-1zM9 9h3v1h-3zM22 9h1v1h-1zM4 10h2v1h-2zM9 10h1v1h-1zM23 10h2v1h-2zM24 11h1v1h-1zM12 12h8v1h-8zM22 12h1v1h-1zM8 14h3v1h-3zM13 14h3v1h-3zM17 14h2v1h-2zM22 14h1v1h-1zM10 15h1v1h-1zM18 15h4v1h-4zM9 16h2v1h-2zM18 16h4v1h-4zM8 17h3v1h-3zM19 17h4v1h-4zM8 18h3v1h-3zM18 18h4v1h-4zM15 19h3v1h-3zM15 20h3v1h-3zM22 21h2v1h-2zM8 22h4v1h-4zM23 22h1v1h-1zM9 23h2v1h-2zM17 23h2v1h-2zM22 23h2v1h-2zM8 24h6v1h-6zM15 24h8v1h-8z"/>
<path fill="#00ffe6" d="M21 4h1v1h-1zM12 8h10v1h-10zM12 9h10v1h-10zM10 10h13v1h-13zM10 11h14v1h-14zM20 12h2v1h-2zM11 14h2v1h-2zM16 14h1v1h-1zM11 15h7v1h-7zM22 15h1v1h-1zM11 16h7v1h-7zM22 16h1v1h-1zM11 17h8v1h-8zM11 18h7v1h-7zM11 20h4v1h-4zM9 21h13v1h-13zM12 22h11v1h-11zM11 23h6v1h-6zM19 23h3v1h-3zM14 24h1v1h-1z"/>
</g></g></g>
</g>
<rect x="216.3" y="86.7" width="619.7" height="683.3" fill="none" stroke="#000" stroke-width="3"/>
<rect x="935.6" y="86.7" width="620.4" height="683.3" fill="none" stroke="#000" stroke-width="3"/>
<rect x="1655.7" y="86.7" width="616.3" height="683.3" fill="none" stroke="#000" stroke-width="3"/>
<rect x="216.3" y="920.0" width="619.7" height="682.6" fill="none" stroke="#000" stroke-width="3"/>
<rect x="935.6" y="920.0" width="620.4" height="682.6" fill="none" stroke="#000" stroke-width="3"/>
<rect x="1655.7" y="920.0" width="616.3" height="682.6" fill="none" stroke="#000" stroke-width="3"/>
<rect x="216.3" y="1716.0" width="619.7" height="683.3" fill="none" stroke="#000" stroke-width="3"/>
<rect x="935.6" y="1716.0" width="620.4" height="683.3" fill="none" stroke="#000" stroke-width="3"/>
<rect x="1655.7" y="1716.0" width="616.3" height="683.3" fill="none" stroke="#000" stroke-width="3"/>
<rect x="216.3" y="2512.7" width="619.7" height="682.5" fill="none" stroke="#000" stroke-width="3"/>
<rect x="935.6" y="2512.7" width="620.4" height="682.5" fill="none" stroke="#000" stroke-width="3"/>
<rect x="1655.7" y="2512.7" width="616.3" height="682.5" fill="none" stroke="#000" stroke-width="3"/>
<rect x="2322.3" y="131.0" width="62.7" height="639.0" fill="url(#jetg)" stroke="#000" stroke-width="2.5"/>
<path d="M2322.3 131.0h8M2385.0 131.0h-8" stroke="#000" stroke-width="2.5"/>
<text transform="translate(2390 141.7) scale(0.92 1)" class="tk">8</text>
<path d="M2322.3 202.0h8M2385.0 202.0h-8" stroke="#000" stroke-width="2.5"/>
<text transform="translate(2390 212.7) scale(0.92 1)" class="tk">7.5</text>
<path d="M2322.3 273.0h8M2385.0 273.0h-8" stroke="#000" stroke-width="2.5"/>
<text transform="translate(2390 283.7) scale(0.92 1)" class="tk">7</text>
<path d="M2322.3 344.0h8M2385.0 344.0h-8" stroke="#000" stroke-width="2.5"/>
<text transform="translate(2390 354.7) scale(0.92 1)" class="tk">6.5</text>
<path d="M2322.3 415.0h8M2385.0 415.0h-8" stroke="#000" stroke-width="2.5"/>
<text transform="translate(2390 425.7) scale(0.92 1)" class="tk">6</text>
<path d="M2322.3 486.0h8M2385.0 486.0h-8" stroke="#000" stroke-width="2.5"/>
<text transform="translate(2390 496.7) scale(0.92 1)" class="tk">5.5</text>
<path d="M2322.3 557.0h8M2385.0 557.0h-8" stroke="#000" stroke-width="2.5"/>
<text transform="translate(2390 567.7) scale(0.92 1)" class="tk">5</text>
<path d="M2322.3 628.0h8M2385.0 628.0h-8" stroke="#000" stroke-width="2.5"/>
<text transform="translate(2390 638.7) scale(0.92 1)" class="tk">4.5</text>
<path d="M2322.3 699.0h8M2385.0 699.0h-8" stroke="#000" stroke-width="2.5"/>
<text transform="translate(2390 709.7) scale(0.92 1)" class="tk">4</text>
<path d="M2322.3 770.0h8M2385.0 770.0h-8" stroke="#000" stroke-width="2.5"/>
<text transform="translate(2390 780.7) scale(0.92 1)" class="tk">3.5</text>
<rect x="2322.3" y="962.5" width="62.7" height="638.3" fill="url(#jetg)" stroke="#000" stroke-width="2.5"/>
<path d="M2322.3 992.8h8M2385.0 992.8h-8" stroke="#000" stroke-width="2.5"/>
<text transform="translate(2390 1003.5) scale(0.92 1)" class="tk">1.1</text>
<path d="M2322.3 1068.8h8M2385.0 1068.8h-8" stroke="#000" stroke-width="2.5"/>
<text transform="translate(2390 1079.5) scale(0.92 1)" class="tk">1.05</text>
<path d="M2322.3 1144.8h8M2385.0 1144.8h-8" stroke="#000" stroke-width="2.5"/>
<text transform="translate(2390 1155.5) scale(0.92 1)" class="tk">1</text>
<path d="M2322.3 1220.8h8M2385.0 1220.8h-8" stroke="#000" stroke-width="2.5"/>
<text transform="translate(2390 1231.5) scale(0.92 1)" class="tk">0.95</text>
<path d="M2322.3 1296.8h8M2385.0 1296.8h-8" stroke="#000" stroke-width="2.5"/>
<text transform="translate(2390 1307.5) scale(0.92 1)" class="tk">0.9</text>
<path d="M2322.3 1372.8h8M2385.0 1372.8h-8" stroke="#000" stroke-width="2.5"/>
<text transform="translate(2390 1383.5) scale(0.92 1)" class="tk">0.85</text>
<path d="M2322.3 1448.8h8M2385.0 1448.8h-8" stroke="#000" stroke-width="2.5"/>
<text transform="translate(2390 1459.5) scale(0.92 1)" class="tk">0.8</text>
<path d="M2322.3 1524.8h8M2385.0 1524.8h-8" stroke="#000" stroke-width="2.5"/>
<text transform="translate(2390 1535.5) scale(0.92 1)" class="tk">0.75</text>
<path d="M2322.3 1600.8h8M2385.0 1600.8h-8" stroke="#000" stroke-width="2.5"/>
<text transform="translate(2390 1611.5) scale(0.92 1)" class="tk">0.7</text>
<rect x="2322.3" y="1759.1" width="62.7" height="638.3" fill="url(#jetg)" stroke="#000" stroke-width="2.5"/>
<path d="M2322.3 1816.6h8M2385.0 1816.6h-8" stroke="#000" stroke-width="2.5"/>
<text transform="translate(2390 1827.3) scale(0.92 1)" class="tk">0.8</text>
<path d="M2322.3 1913.4h8M2385.0 1913.4h-8" stroke="#000" stroke-width="2.5"/>
<text transform="translate(2390 1924.1) scale(0.92 1)" class="tk">0.75</text>
<path d="M2322.3 2010.2h8M2385.0 2010.2h-8" stroke="#000" stroke-width="2.5"/>
<text transform="translate(2390 2020.9) scale(0.92 1)" class="tk">0.7</text>
<path d="M2322.3 2107.0h8M2385.0 2107.0h-8" stroke="#000" stroke-width="2.5"/>
<text transform="translate(2390 2117.7) scale(0.92 1)" class="tk">0.65</text>
<path d="M2322.3 2203.8h8M2385.0 2203.8h-8" stroke="#000" stroke-width="2.5"/>
<text transform="translate(2390 2214.5) scale(0.92 1)" class="tk">0.6</text>
<path d="M2322.3 2300.6h8M2385.0 2300.6h-8" stroke="#000" stroke-width="2.5"/>
<text transform="translate(2390 2311.3) scale(0.92 1)" class="tk">0.55</text>
<path d="M2322.3 2397.4h8M2385.0 2397.4h-8" stroke="#000" stroke-width="2.5"/>
<text transform="translate(2390 2408.1) scale(0.92 1)" class="tk">0.5</text>
<rect x="2322.3" y="2553.7" width="62.7" height="639.6" fill="url(#jetg)" stroke="#000" stroke-width="2.5"/>
<path d="M2322.3 2598.3h8M2385.0 2598.3h-8" stroke="#000" stroke-width="2.5"/>
<text transform="translate(2390 2609.0) scale(0.92 1)" class="tk">700</text>
<path d="M2322.3 2683.3h8M2385.0 2683.3h-8" stroke="#000" stroke-width="2.5"/>
<text transform="translate(2390 2694.0) scale(0.92 1)" class="tk">680</text>
<path d="M2322.3 2768.3h8M2385.0 2768.3h-8" stroke="#000" stroke-width="2.5"/>
<text transform="translate(2390 2779.0) scale(0.92 1)" class="tk">660</text>
<path d="M2322.3 2853.3h8M2385.0 2853.3h-8" stroke="#000" stroke-width="2.5"/>
<text transform="translate(2390 2864.0) scale(0.92 1)" class="tk">640</text>
<path d="M2322.3 2938.3h8M2385.0 2938.3h-8" stroke="#000" stroke-width="2.5"/>
<text transform="translate(2390 2949.0) scale(0.92 1)" class="tk">620</text>
<path d="M2322.3 3023.3h8M2385.0 3023.3h-8" stroke="#000" stroke-width="2.5"/>
<text transform="translate(2390 3034.0) scale(0.92 1)" class="tk">600</text>
<path d="M2322.3 3108.3h8M2385.0 3108.3h-8" stroke="#000" stroke-width="2.5"/>
<text transform="translate(2390 3119.0) scale(0.92 1)" class="tk">580</text>
<path d="M2322.3 3193.3h8M2385.0 3193.3h-8" stroke="#000" stroke-width="2.5"/>
<text transform="translate(2390 3204.0) scale(0.92 1)" class="tk">560</text>
<text x="2294" y="112" class="un">mm/day</text>
<text x="2307" y="2536" class="un">W/m2</text>
<text x="520.0" y="57" class="dt" text-anchor="middle">4/26/2010</text>
<text x="1240.6" y="57" class="dt" text-anchor="middle">6/29/2010</text>
<text x="1961.0" y="57" class="dt" text-anchor="middle">9/1/2010</text>
<text transform="translate(165.8 417.0) rotate(-90)" class="rl" text-anchor="middle" textLength="234" lengthAdjust="spacingAndGlyphs">Daily ET</text>
<text transform="translate(165.8 1250.0) rotate(-90)" class="rl" text-anchor="middle" textLength="140" lengthAdjust="spacingAndGlyphs">EToF</text>
<text transform="translate(165.8 2047.0) rotate(-90)" class="rl" text-anchor="middle" textLength="150" lengthAdjust="spacingAndGlyphs">NDVI</text>
<text transform="translate(165.8 2842.5) rotate(-90)" class="rl" text-anchor="middle" textLength="76" lengthAdjust="spacingAndGlyphs">Rn</text>
<text x="15.5" y="152.5" class="rd">Road</text>
<rect x="219.5" y="247.1" width="614" height="28.4" fill="none" stroke="#000" stroke-width="9"/>
<path d="M218 156 L395 247" stroke="#000" stroke-width="9.5" fill="none"/>
<path d="M184 137.6 L229 138.6 L212 174 Z" fill="#000"/>
</svg></body></html>
